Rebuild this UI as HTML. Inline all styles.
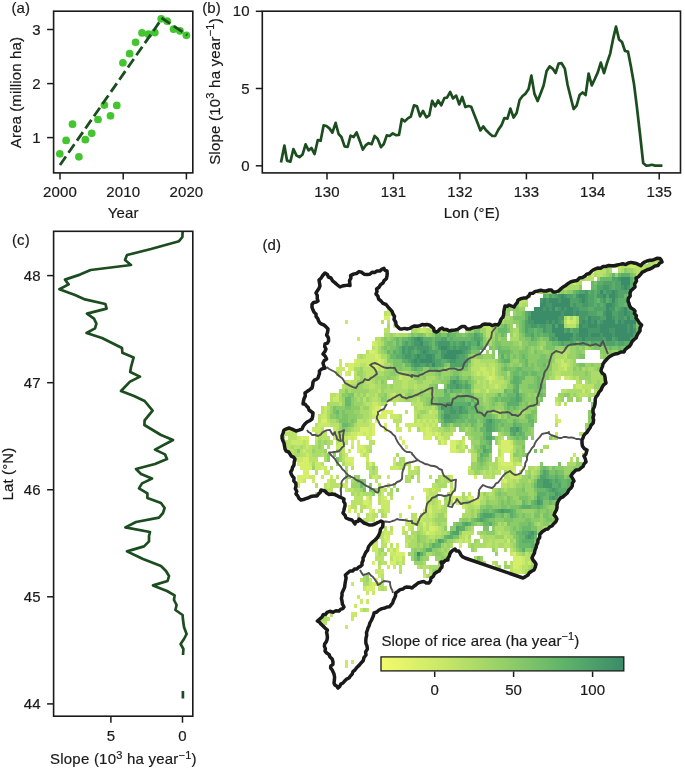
<!DOCTYPE html>
<html><head><meta charset="utf-8"><title>Rice area slope</title>
<style>
html,body{margin:0;padding:0;background:#fff;}
body{width:685px;height:770px;overflow:hidden;}
svg{display:block;}text{filter:grayscale(1);}
text{font-family:"Liberation Sans",sans-serif;font-size:15px;fill:#1a1a1a;font-kerning:normal;letter-spacing:0.12px;stroke:#1a1a1a;stroke-width:0.2px;}
.ax{fill:none;stroke:#1a1a1a;stroke-width:1.6;}
.tk{stroke:#1a1a1a;stroke-width:1.5;}
.ln{fill:none;stroke:#1b4d1f;stroke-width:2.7;stroke-linejoin:round;stroke-linecap:butt;}
.m{text-anchor:middle;}.e{text-anchor:end;}
.sup{font-size:11px;}.ls{letter-spacing:0.22px;}
</style></head><body>
<svg width="685" height="770" viewBox="0 0 685 770">
<rect width="685" height="770" fill="#fff"/>
<g id="panel-a">
<text x="11.5" y="13.2">(a)</text>
<circle cx="59.8" cy="153.8" r="3.85" fill="#43c52f"/>
<circle cx="66.1" cy="140.4" r="3.85" fill="#43c52f"/>
<circle cx="72.5" cy="124.2" r="3.85" fill="#43c52f"/>
<circle cx="78.9" cy="156.8" r="3.85" fill="#43c52f"/>
<circle cx="85.3" cy="139.7" r="3.85" fill="#43c52f"/>
<circle cx="91.7" cy="133.3" r="3.85" fill="#43c52f"/>
<circle cx="98.0" cy="119.5" r="3.85" fill="#43c52f"/>
<circle cx="104.4" cy="105.1" r="3.85" fill="#43c52f"/>
<circle cx="110.5" cy="115.8" r="3.85" fill="#43c52f"/>
<circle cx="116.8" cy="105.4" r="3.85" fill="#43c52f"/>
<circle cx="122.9" cy="62.8" r="3.85" fill="#43c52f"/>
<circle cx="129.6" cy="53.7" r="3.85" fill="#43c52f"/>
<circle cx="135.6" cy="42.3" r="3.85" fill="#43c52f"/>
<circle cx="142.0" cy="32.9" r="3.85" fill="#43c52f"/>
<circle cx="148.4" cy="34.2" r="3.85" fill="#43c52f"/>
<circle cx="154.8" cy="32.6" r="3.85" fill="#43c52f"/>
<circle cx="161.2" cy="18.8" r="3.85" fill="#43c52f"/>
<circle cx="167.2" cy="21.2" r="3.85" fill="#43c52f"/>
<circle cx="173.6" cy="29.2" r="3.85" fill="#43c52f"/>
<circle cx="180.0" cy="30.9" r="3.85" fill="#43c52f"/>
<circle cx="186.4" cy="35.3" r="3.85" fill="#43c52f"/>
<line x1="60.0" y1="165.0" x2="161.8" y2="18.75" stroke="#1b4d1f" stroke-width="2.8" stroke-dasharray="10.37 4.48"/>
<line x1="161.5" y1="17.9" x2="187.2" y2="35.1" stroke="#1b4d1f" stroke-width="2.8" stroke-dasharray="10.37 4.48"/>
<rect class="ax" x="53.6" y="11.2" width="139.2" height="161.7"/>
<line class="tk" x1="47.1" x2="53.6" y1="29.5" y2="29.5"/>
<text class="e" x="40.8" y="34.6">3</text>
<line class="tk" x1="47.1" x2="53.6" y1="83.6" y2="83.6"/>
<text class="e" x="40.8" y="88.7">2</text>
<line class="tk" x1="47.1" x2="53.6" y1="137.6" y2="137.6"/>
<text class="e" x="40.8" y="142.7">1</text>
<line class="tk" x1="60.0" x2="60.0" y1="172.9" y2="179.4"/>
<text class="m" x="60.0" y="197.2">2000</text>
<line class="tk" x1="123.2" x2="123.2" y1="172.9" y2="179.4"/>
<text class="m" x="123.2" y="197.2">2010</text>
<line class="tk" x1="186.4" x2="186.4" y1="172.9" y2="179.4"/>
<text class="m" x="186.4" y="197.2">2020</text>
<text class="m" x="123.2" y="218.2">Year</text>
<text class="m" transform="translate(20.8,92.6) rotate(-90)">Area (million ha)</text>
</g>
<g id="panel-b">
<text x="202.2" y="13.2">(b)</text>
<polyline class="ln" points="281.0,162.4 284.4,145.6 287.0,160.6 290.4,161.6 293.4,149.0 296.4,155.4 299.4,157.2 302.6,154.4 305.6,144.4 308.6,150.4 311.4,148.0 314.6,154.0 317.8,140.0 320.6,140.8 323.6,125.4 326.4,126.0 329.4,128.4 332.4,132.6 335.6,122.8 338.6,134.0 341.4,137.0 344.6,146.4 347.6,147.0 350.6,135.6 353.6,137.0 356.6,132.4 360.0,141.4 362.8,149.6 365.6,145.4 368.6,143.2 371.6,144.2 374.6,136.0 377.6,138.8 381.0,147.2 383.8,144.0 386.8,135.4 389.6,136.0 392.8,133.4 395.8,135.2 399.0,135.0 401.8,119.0 404.8,121.4 407.8,118.4 410.8,116.6 414.0,105.4 417.0,106.4 420.0,116.4 423.0,111.0 426.4,117.4 429.2,115.4 432.2,100.8 435.2,106.4 438.2,100.4 441.2,105.4 444.4,98.0 447.0,97.6 450.2,92.0 453.0,98.4 456.2,95.6 459.2,104.4 462.2,97.0 465.4,107.0 468.4,106.0 471.2,106.8 474.2,114.4 477.2,122.0 480.4,130.4 483.2,126.4 486.4,130.6 489.4,133.4 492.4,136.0 495.2,136.0 498.4,129.6 501.4,125.4 504.4,118.0 507.4,118.6 510.4,108.6 513.6,117.6 516.6,113.0 519.6,100.0 522.6,96.0 525.6,93.6 528.6,89.0 531.4,75.6 534.4,93.6 537.6,101.0 540.6,93.4 543.6,85.6 546.6,71.0 549.6,66.4 552.6,68.6 555.6,73.0 558.6,63.6 561.6,63.2 564.8,68.6 567.6,85.0 570.6,97.0 573.6,109.0 576.6,105.6 579.6,95.0 582.6,92.4 585.6,95.0 588.6,73.6 591.8,85.4 594.8,79.0 597.8,72.4 600.8,62.6 604.0,73.2 607.0,63.0 610.2,53.6 613.0,39.4 616.0,26.6 619.0,39.4 622.0,42.0 625.0,51.0 628.0,51.6 631.0,67.0 634.0,84.0 637.0,108.0 640.0,134.0 643.2,163.0 646.0,165.6 649.0,165.4 652.0,164.8 655.0,165.6 658.0,165.6 662.4,165.6"/>
<rect class="ax" x="262.3" y="11.2" width="418.2" height="161.7"/>
<line class="tk" x1="255.8" x2="262.3" y1="11.3" y2="11.3"/>
<text class="e" x="249.8" y="16.4">10</text>
<line class="tk" x1="255.8" x2="262.3" y1="88.5" y2="88.5"/>
<text class="e" x="249.8" y="93.6">5</text>
<line class="tk" x1="255.8" x2="262.3" y1="165.8" y2="165.8"/>
<text class="e" x="249.8" y="170.9">0</text>
<line class="tk" x1="327.0" x2="327.0" y1="172.9" y2="179.4"/>
<text class="m" x="327.0" y="197.2">130</text>
<line class="tk" x1="393.4" x2="393.4" y1="172.9" y2="179.4"/>
<text class="m" x="393.4" y="197.2">131</text>
<line class="tk" x1="459.9" x2="459.9" y1="172.9" y2="179.4"/>
<text class="m" x="459.9" y="197.2">132</text>
<line class="tk" x1="526.4" x2="526.4" y1="172.9" y2="179.4"/>
<text class="m" x="526.4" y="197.2">133</text>
<line class="tk" x1="592.8" x2="592.8" y1="172.9" y2="179.4"/>
<text class="m" x="592.8" y="197.2">134</text>
<line class="tk" x1="659.2" x2="659.2" y1="172.9" y2="179.4"/>
<text class="m" x="659.2" y="197.2">135</text>
<text class="m" x="471.8" y="218.2">Lon (°E)</text>
<text class="m ls" transform="translate(219.5,91.5) rotate(-90)">Slope (10<tspan class="sup" dy="-5.5">3</tspan><tspan dy="5.5"> ha year</tspan><tspan class="sup" dy="-5.5">−1</tspan><tspan dy="5.5">)</tspan></text>
</g>
<g id="panel-c">
<text x="12" y="245">(c)</text>
<clipPath id="clipc"><rect x="53.6" y="231.3" width="139.2" height="484.9"/></clipPath>
<g clip-path="url(#clipc)"><polyline class="ln" points="182.6,231.6 182.4,237.0 179.0,241.2 151.0,249.0 127.0,255.0 125.0,260.0 131.0,265.0 90.6,270.0 80.0,274.6 65.0,279.6 68.6,284.4 59.4,289.2 75.0,295.0 85.0,299.4 105.4,304.0 106.6,308.6 87.0,313.6 94.0,318.6 96.4,323.6 95.0,328.4 86.6,333.0 102.0,338.0 122.0,348.0 122.4,352.8 133.6,357.6 131.0,367.2 130.2,372.0 140.0,376.6 130.0,381.6 121.0,391.0 134.0,396.0 144.6,401.0 152.6,410.6 144.6,420.4 144.4,425.0 161.0,435.0 173.0,440.0 155.0,449.6 165.0,454.4 167.0,459.0 155.0,464.0 136.0,469.0 141.0,474.0 152.0,478.6 142.0,483.4 139.0,488.4 147.4,493.4 147.4,498.0 161.0,503.0 164.6,508.0 163.0,513.0 159.0,517.6 136.0,522.0 125.4,527.4 150.0,532.0 149.0,536.0 149.0,541.4 144.0,546.4 127.0,551.4 143.0,559.0 161.0,566.0 166.0,571.0 169.0,576.0 167.6,581.0 153.0,585.4 167.0,591.0 174.6,595.4 174.0,600.0 176.6,605.0 175.4,610.0 182.6,615.0 183.0,620.0 184.0,627.0 186.6,634.0 184.0,639.0 180.6,644.0 183.4,649.0 183.0,655.0"/>
<line class="ln" x1="182.9" x2="182.9" y1="691" y2="698.4"/></g>
<rect class="ax" x="53.6" y="231.3" width="139.2" height="484.9"/>
<line class="tk" x1="47.1" x2="53.6" y1="275.6" y2="275.6"/>
<text class="e" x="40.8" y="280.7">48</text>
<line class="tk" x1="47.1" x2="53.6" y1="382.7" y2="382.7"/>
<text class="e" x="40.8" y="387.8">47</text>
<line class="tk" x1="47.1" x2="53.6" y1="489.75" y2="489.75"/>
<text class="e" x="40.8" y="494.9">46</text>
<line class="tk" x1="47.1" x2="53.6" y1="596.8" y2="596.8"/>
<text class="e" x="40.8" y="601.9">45</text>
<line class="tk" x1="47.1" x2="53.6" y1="703.9" y2="703.9"/>
<text class="e" x="40.8" y="709.0">44</text>
<line class="tk" x1="110.9" x2="110.9" y1="716.2" y2="722.7"/>
<text class="m" x="110.9" y="741">5</text>
<line class="tk" x1="182.5" x2="182.5" y1="716.2" y2="722.7"/>
<text class="m" x="182.5" y="741">0</text>
<text class="m ls" x="123.4" y="764">Slope (10<tspan class="sup" dy="-5.5">3</tspan><tspan dy="5.5"> ha year</tspan><tspan class="sup" dy="-5.5">−1</tspan><tspan dy="5.5">)</tspan></text>
<text class="m" transform="translate(12.5,474) rotate(-90)">Lat (°N)</text>
</g>
<g id="panel-d">
<text x="262.5" y="249.8">(d)</text>
<clipPath id="clipm"><polygon points="303.0,404.0 305.0,393.0 312.0,388.0 313.0,382.0 318.0,378.0 319.4,371.0 325.0,368.0 323.0,363.0 326.6,359.0 323.0,354.0 326.0,349.0 325.0,344.0 328.6,341.0 326.6,335.0 328.0,329.0 324.0,325.0 318.6,321.0 316.0,314.0 313.0,310.0 312.0,304.4 318.0,301.0 316.0,293.0 320.0,286.0 319.0,280.0 325.0,273.0 331.0,278.0 340.0,287.0 345.0,285.6 350.0,285.6 350.6,275.6 359.0,271.6 367.0,274.4 375.0,272.4 384.0,268.4 387.0,271.0 387.0,276.0 383.0,283.0 376.6,289.0 376.0,294.0 381.0,301.0 388.0,307.0 393.0,314.0 396.0,325.0 400.0,329.0 407.0,329.0 412.0,327.0 420.0,325.6 427.0,324.4 432.0,327.0 436.0,332.0 442.0,328.0 449.0,331.0 455.0,330.0 462.0,326.4 470.0,329.0 478.0,327.0 485.0,324.0 492.0,325.6 498.0,325.0 503.0,317.0 505.0,306.0 509.0,305.0 514.0,307.0 518.0,300.0 526.0,298.0 530.0,293.6 538.0,291.0 549.0,290.0 556.0,292.0 563.0,287.0 574.0,281.0 585.0,276.0 593.0,270.0 606.0,266.4 620.0,264.4 634.0,263.0 641.0,265.6 647.0,261.0 654.0,259.6 660.0,258.4 662.0,262.0 658.0,265.6 650.0,269.0 642.0,272.4 636.0,278.0 635.0,287.0 630.0,293.0 628.0,301.0 631.0,308.0 635.0,311.0 636.0,318.0 641.6,325.0 640.0,331.0 636.0,338.0 631.0,344.0 624.0,352.0 615.0,354.0 607.0,359.0 603.0,364.0 601.0,371.0 605.0,377.0 606.0,383.0 601.0,390.0 596.0,397.0 595.0,404.0 593.0,412.0 593.6,420.0 590.0,428.0 585.0,434.0 582.0,440.0 582.4,446.0 587.0,450.0 584.0,456.0 586.0,462.0 581.0,468.0 574.0,472.0 571.0,476.0 574.0,481.0 571.0,488.0 565.0,495.0 559.0,500.0 557.0,508.0 554.0,515.0 557.0,519.0 552.0,526.0 548.0,529.0 542.0,532.0 538.0,540.0 535.0,550.0 532.0,558.0 536.0,564.0 534.0,570.0 528.0,575.0 523.0,578.0 465.0,558.0 460.0,553.0 455.0,549.0 451.0,552.0 448.0,558.0 448.0,560.0 441.0,562.0 442.0,567.0 437.0,572.0 431.0,578.0 429.0,583.0 424.0,581.6 418.0,583.0 412.0,588.0 407.0,587.0 403.0,589.0 395.6,593.0 394.6,598.0 391.0,605.0 385.0,608.0 379.0,610.0 374.0,613.0 371.0,621.0 367.4,630.0 366.0,638.0 367.0,646.0 366.0,655.0 361.0,663.0 355.0,670.0 349.0,678.0 343.0,683.0 338.0,688.0 334.0,683.0 334.0,674.0 330.6,668.0 333.0,662.0 330.0,657.0 325.0,651.0 324.6,644.0 327.4,637.0 327.4,630.0 323.0,626.0 317.4,621.0 322.0,617.0 327.0,612.4 339.0,611.0 344.0,607.0 342.0,601.0 342.0,593.0 345.0,584.0 345.4,575.0 350.0,571.0 357.0,569.0 362.0,565.0 363.0,558.0 366.0,552.0 369.0,546.0 375.0,540.0 380.0,532.0 383.0,524.0 381.0,521.0 375.0,524.0 369.0,525.0 364.0,523.0 359.0,519.0 355.0,524.0 352.0,520.0 346.0,518.0 343.0,513.0 345.0,506.0 344.0,499.0 337.0,495.6 329.0,494.4 325.0,491.0 321.0,490.0 317.0,496.0 308.0,498.0 301.0,500.0 296.0,494.0 296.0,486.0 294.0,478.0 290.6,472.0 294.0,465.0 295.0,459.0 290.0,454.0 285.0,449.0 284.0,443.0 282.0,436.0 284.0,430.0 289.0,428.0 296.0,431.0 302.0,429.0 307.0,422.0 312.0,419.0 313.0,413.0 309.0,410.0 305.0,404.0"/></clipPath>
<g clip-path="url(#clipm)" shape-rendering="crispEdges">
<path fill="#d6ef6a" d="M390 311.2h3v4.3h-3zM384 315.5h6v4.3h-6zM393 315.5h3v4.3h-3zM567 319.8h3v4.3h-3zM393 324.1h3v4.3h-3zM372 341.3h3v4.3h-3zM369 349.9h6v4.3h-6zM375 354.2h3v4.3h-3zM354 358.5h3v4.3h-3zM378 358.5h3v4.3h-3zM348 362.8h6v4.3h-6zM369 362.8h12v4.3h-12zM348 367.1h6v4.3h-6zM345 371.4h3v4.3h-3zM489 375.7h3v4.3h-3zM555 401.5h3v4.3h-3zM375 405.8h6v4.3h-6zM372 410.1h6v4.3h-6zM381 410.1h12v4.3h-12zM375 414.4h12v4.3h-12zM555 414.4h3v4.3h-3zM321 418.7h6v4.3h-6zM375 418.7h3v4.3h-3zM558 418.7h3v4.3h-3zM372 423h3v4.3h-3zM384 423h3v4.3h-3zM285 427.3h3v4.3h-3zM360 427.3h9v4.3h-9zM372 427.3h3v4.3h-3zM384 427.3h3v4.3h-3zM426 427.3h3v4.3h-3zM357 431.6h6v4.3h-6zM366 431.6h3v4.3h-3zM372 431.6h3v4.3h-3zM426 431.6h6v4.3h-6zM435 431.6h3v4.3h-3zM300 435.9h9v4.3h-9zM348 435.9h3v4.3h-3zM354 435.9h3v4.3h-3zM369 435.9h3v4.3h-3zM399 435.9h3v4.3h-3zM423 435.9h9v4.3h-9zM438 435.9h3v4.3h-3zM351 440.2h3v4.3h-3zM357 440.2h3v4.3h-3zM402 440.2h3v4.3h-3zM441 440.2h3v4.3h-3zM450 440.2h6v4.3h-6zM501 440.2h9v4.3h-9zM357 444.5h6v4.3h-6zM405 444.5h3v4.3h-3zM450 444.5h6v4.3h-6zM501 444.5h12v4.3h-12zM357 448.8h3v4.3h-3zM363 448.8h3v4.3h-3zM450 448.8h6v4.3h-6zM501 448.8h9v4.3h-9zM360 453.1h3v4.3h-3zM501 453.1h3v4.3h-3zM303 457.4h6v4.3h-6zM345 457.4h9v4.3h-9zM498 457.4h6v4.3h-6zM297 461.7h12v4.3h-12zM351 461.7h3v4.3h-3zM369 461.7h3v4.3h-3zM501 461.7h12v4.3h-12zM300 466h12v4.3h-12zM321 466h3v4.3h-3zM303 470.3h6v4.3h-6zM513 470.3h3v4.3h-3zM297 474.6h12v4.3h-12zM474 474.6h3v4.3h-3zM297 478.9h6v4.3h-6zM504 478.9h3v4.3h-3zM339 487.5h3v4.3h-3zM423 487.5h3v4.3h-3zM453 487.5h3v4.3h-3zM450 491.8h3v4.3h-3zM366 496.1h3v4.3h-3zM384 496.1h3v4.3h-3zM411 496.1h3v4.3h-3zM453 496.1h3v4.3h-3zM468 496.1h6v4.3h-6zM363 500.4h6v4.3h-6zM348 504.7h3v4.3h-3zM369 504.7h3v4.3h-3zM408 504.7h3v4.3h-3zM348 509h3v4.3h-3zM369 509h3v4.3h-3zM429 509h3v4.3h-3zM423 521.9h3v4.3h-3zM429 526.2h6v4.3h-6zM426 530.5h3v4.3h-3zM384 534.8h3v4.3h-3zM387 539.1h3v4.3h-3zM459 543.4h3v4.3h-3zM390 547.7h3v4.3h-3zM396 547.7h3v4.3h-3zM396 552h9v4.3h-9zM513 552h3v4.3h-3zM393 556.3h3v4.3h-3zM399 556.3h3v4.3h-3zM513 556.3h9v4.3h-9zM372 560.6h3v4.3h-3zM390 560.6h6v4.3h-6zM513 560.6h9v4.3h-9zM513 564.9h6v4.3h-6zM375 577.8h3v4.3h-3zM372 582.1h3v4.3h-3zM366 586.4h9v4.3h-9z"/>
<path fill="#c9e968" d="M618 263.9h3v4.3h-3zM630 263.9h6v4.3h-6zM591 272.5h3v4.3h-3zM573 281.1h3v4.3h-3zM537 289.7h3v4.3h-3zM387 306.9h3v4.3h-3zM387 311.2h3v4.3h-3zM567 315.5h3v4.3h-3zM573 315.5h3v4.3h-3zM345 319.8h3v4.3h-3zM393 319.8h3v4.3h-3zM570 319.8h6v4.3h-6zM423 324.1h3v4.3h-3zM489 324.1h3v4.3h-3zM420 328.4h6v4.3h-6zM357 337h3v4.3h-3zM375 341.3h3v4.3h-3zM375 345.6h3v4.3h-3zM375 349.9h3v4.3h-3zM366 354.2h9v4.3h-9zM378 354.2h3v4.3h-3zM339 358.5h3v4.3h-3zM357 358.5h21v4.3h-21zM381 358.5h3v4.3h-3zM561 358.5h3v4.3h-3zM339 362.8h3v4.3h-3zM345 362.8h3v4.3h-3zM354 362.8h6v4.3h-6zM366 362.8h3v4.3h-3zM381 362.8h3v4.3h-3zM561 362.8h6v4.3h-6zM336 367.1h9v4.3h-9zM375 367.1h3v4.3h-3zM381 367.1h3v4.3h-3zM480 367.1h6v4.3h-6zM492 367.1h3v4.3h-3zM564 367.1h3v4.3h-3zM339 371.4h3v4.3h-3zM348 371.4h3v4.3h-3zM477 371.4h3v4.3h-3zM483 371.4h6v4.3h-6zM492 371.4h3v4.3h-3zM399 375.7h3v4.3h-3zM486 375.7h3v4.3h-3zM492 375.7h3v4.3h-3zM555 375.7h6v4.3h-6zM564 375.7h6v4.3h-6zM348 380h3v4.3h-3zM489 380h3v4.3h-3zM495 384.3h3v4.3h-3zM576 384.3h6v4.3h-6zM486 388.6h3v4.3h-3zM582 388.6h3v4.3h-3zM336 392.9h3v4.3h-3zM393 392.9h3v4.3h-3zM333 397.2h6v4.3h-6zM372 401.5h6v4.3h-6zM393 401.5h3v4.3h-3zM324 405.8h3v4.3h-3zM372 405.8h3v4.3h-3zM324 410.1h3v4.3h-3zM429 410.1h3v4.3h-3zM321 414.4h6v4.3h-6zM372 414.4h3v4.3h-3zM390 414.4h9v4.3h-9zM369 418.7h3v4.3h-3zM417 418.7h3v4.3h-3zM423 418.7h3v4.3h-3zM429 418.7h3v4.3h-3zM435 418.7h3v4.3h-3zM555 418.7h3v4.3h-3zM318 423h12v4.3h-12zM369 423h3v4.3h-3zM405 423h18v4.3h-18zM426 423h3v4.3h-3zM432 423h3v4.3h-3zM288 427.3h6v4.3h-6zM312 427.3h9v4.3h-9zM333 427.3h3v4.3h-3zM369 427.3h3v4.3h-3zM396 427.3h6v4.3h-6zM408 427.3h3v4.3h-3zM420 427.3h6v4.3h-6zM429 427.3h3v4.3h-3zM282 431.6h3v4.3h-3zM318 431.6h3v4.3h-3zM351 431.6h6v4.3h-6zM363 431.6h3v4.3h-3zM369 431.6h3v4.3h-3zM423 431.6h3v4.3h-3zM432 431.6h3v4.3h-3zM438 431.6h3v4.3h-3zM555 431.6h3v4.3h-3zM297 435.9h3v4.3h-3zM315 435.9h3v4.3h-3zM333 435.9h3v4.3h-3zM339 435.9h3v4.3h-3zM345 435.9h3v4.3h-3zM351 435.9h3v4.3h-3zM366 435.9h3v4.3h-3zM441 435.9h3v4.3h-3zM291 440.2h12v4.3h-12zM306 440.2h3v4.3h-3zM339 440.2h3v4.3h-3zM444 440.2h3v4.3h-3zM456 440.2h3v4.3h-3zM462 440.2h3v4.3h-3zM510 440.2h3v4.3h-3zM306 444.5h3v4.3h-3zM336 444.5h6v4.3h-6zM351 444.5h3v4.3h-3zM363 444.5h3v4.3h-3zM462 444.5h3v4.3h-3zM498 444.5h3v4.3h-3zM303 448.8h3v4.3h-3zM348 448.8h3v4.3h-3zM360 448.8h3v4.3h-3zM456 448.8h3v4.3h-3zM510 448.8h3v4.3h-3zM306 453.1h3v4.3h-3zM345 453.1h3v4.3h-3zM366 453.1h3v4.3h-3zM510 453.1h3v4.3h-3zM573 453.1h3v4.3h-3zM294 457.4h9v4.3h-9zM366 457.4h3v4.3h-3zM393 457.4h3v4.3h-3zM510 457.4h3v4.3h-3zM309 461.7h3v4.3h-3zM315 461.7h6v4.3h-6zM345 461.7h6v4.3h-6zM393 461.7h3v4.3h-3zM498 461.7h3v4.3h-3zM516 461.7h6v4.3h-6zM315 466h6v4.3h-6zM324 466h3v4.3h-3zM390 466h9v4.3h-9zM414 466h3v4.3h-3zM468 466h3v4.3h-3zM498 466h18v4.3h-18zM522 466h3v4.3h-3zM324 470.3h6v4.3h-6zM507 470.3h6v4.3h-6zM519 470.3h3v4.3h-3zM309 474.6h6v4.3h-6zM321 474.6h3v4.3h-3zM330 474.6h3v4.3h-3zM372 474.6h6v4.3h-6zM387 474.6h3v4.3h-3zM450 474.6h3v4.3h-3zM510 474.6h9v4.3h-9zM303 478.9h3v4.3h-3zM312 478.9h3v4.3h-3zM327 478.9h3v4.3h-3zM501 478.9h3v4.3h-3zM297 483.2h3v4.3h-3zM327 483.2h3v4.3h-3zM339 483.2h9v4.3h-9zM387 483.2h3v4.3h-3zM345 487.5h3v4.3h-3zM381 487.5h3v4.3h-3zM426 487.5h3v4.3h-3zM432 487.5h3v4.3h-3zM450 487.5h3v4.3h-3zM327 491.8h3v4.3h-3zM381 491.8h3v4.3h-3zM426 491.8h3v4.3h-3zM477 491.8h3v4.3h-3zM381 496.1h3v4.3h-3zM429 496.1h3v4.3h-3zM450 496.1h3v4.3h-3zM456 496.1h6v4.3h-6zM477 496.1h3v4.3h-3zM369 500.4h3v4.3h-3zM381 500.4h9v4.3h-9zM438 500.4h3v4.3h-3zM456 500.4h6v4.3h-6zM474 500.4h6v4.3h-6zM366 504.7h3v4.3h-3zM381 504.7h9v4.3h-9zM426 504.7h6v4.3h-6zM438 504.7h3v4.3h-3zM462 504.7h3v4.3h-3zM354 509h3v4.3h-3zM372 509h3v4.3h-3zM384 509h6v4.3h-6zM423 509h6v4.3h-6zM369 513.3h3v4.3h-3zM399 513.3h3v4.3h-3zM423 513.3h3v4.3h-3zM429 513.3h3v4.3h-3zM369 517.6h3v4.3h-3zM405 517.6h3v4.3h-3zM417 517.6h6v4.3h-6zM405 521.9h12v4.3h-12zM429 521.9h3v4.3h-3zM402 526.2h3v4.3h-3zM408 526.2h3v4.3h-3zM423 526.2h3v4.3h-3zM435 526.2h3v4.3h-3zM384 530.5h9v4.3h-9zM429 530.5h6v4.3h-6zM387 534.8h3v4.3h-3zM465 534.8h3v4.3h-3zM384 539.1h3v4.3h-3zM459 539.1h3v4.3h-3zM465 539.1h3v4.3h-3zM507 539.1h3v4.3h-3zM372 543.4h6v4.3h-6zM396 543.4h3v4.3h-3zM405 543.4h3v4.3h-3zM372 547.7h6v4.3h-6zM375 552h3v4.3h-3zM390 552h6v4.3h-6zM510 552h3v4.3h-3zM396 556.3h3v4.3h-3zM522 556.3h3v4.3h-3zM399 560.6h3v4.3h-3zM522 560.6h3v4.3h-3zM528 560.6h3v4.3h-3zM387 564.9h3v4.3h-3zM393 564.9h3v4.3h-3zM519 564.9h3v4.3h-3zM375 569.2h9v4.3h-9zM513 569.2h9v4.3h-9zM378 573.5h3v4.3h-3zM423 573.5h3v4.3h-3zM369 577.8h3v4.3h-3zM351 582.1h3v4.3h-3zM369 582.1h3v4.3h-3zM375 582.1h3v4.3h-3zM363 586.4h3v4.3h-3zM366 590.7h3v4.3h-3zM372 590.7h3v4.3h-3zM357 595h3v4.3h-3zM360 599.3h3v4.3h-3zM366 599.3h3v4.3h-3zM354 603.6h3v4.3h-3zM360 607.9h3v4.3h-3zM351 612.2h6v4.3h-6zM351 616.5h3v4.3h-3zM345 625.1h3v4.3h-3zM345 659.5h3v4.3h-3zM351 659.5h3v4.3h-3zM345 663.8h3v4.3h-3z"/>
<path fill="#bae268" d="M654 259.6h9v4.3h-9zM615 263.9h3v4.3h-3zM624 263.9h6v4.3h-6zM636 263.9h3v4.3h-3zM642 263.9h3v4.3h-3zM651 263.9h6v4.3h-6zM594 268.2h12v4.3h-12zM618 268.2h3v4.3h-3zM636 268.2h12v4.3h-12zM597 272.5h6v4.3h-6zM636 272.5h3v4.3h-3zM579 276.8h3v4.3h-3zM585 276.8h9v4.3h-9zM570 281.1h3v4.3h-3zM576 281.1h3v4.3h-3zM564 285.4h3v4.3h-3zM528 294h3v4.3h-3zM519 298.3h9v4.3h-9zM519 302.6h3v4.3h-3zM384 311.2h3v4.3h-3zM381 319.8h3v4.3h-3zM387 319.8h3v4.3h-3zM564 319.8h3v4.3h-3zM483 324.1h6v4.3h-6zM567 324.1h9v4.3h-9zM384 328.4h6v4.3h-6zM417 328.4h3v4.3h-3zM426 328.4h6v4.3h-6zM465 328.4h3v4.3h-3zM486 328.4h6v4.3h-6zM396 332.7h3v4.3h-3zM486 332.7h6v4.3h-6zM513 332.7h3v4.3h-3zM375 337h6v4.3h-6zM378 341.3h3v4.3h-3zM372 345.6h3v4.3h-3zM366 349.9h3v4.3h-3zM558 349.9h9v4.3h-9zM357 354.2h3v4.3h-3zM363 354.2h3v4.3h-3zM564 354.2h3v4.3h-3zM384 358.5h3v4.3h-3zM474 358.5h6v4.3h-6zM555 358.5h6v4.3h-6zM567 358.5h3v4.3h-3zM360 362.8h6v4.3h-6zM474 362.8h12v4.3h-12zM489 362.8h6v4.3h-6zM558 362.8h3v4.3h-3zM567 362.8h3v4.3h-3zM363 367.1h12v4.3h-12zM378 367.1h3v4.3h-3zM471 367.1h9v4.3h-9zM486 367.1h6v4.3h-6zM558 367.1h6v4.3h-6zM336 371.4h3v4.3h-3zM354 371.4h3v4.3h-3zM366 371.4h9v4.3h-9zM399 371.4h3v4.3h-3zM474 371.4h3v4.3h-3zM480 371.4h3v4.3h-3zM489 371.4h3v4.3h-3zM555 371.4h6v4.3h-6zM354 375.7h6v4.3h-6zM366 375.7h3v4.3h-3zM402 375.7h9v4.3h-9zM483 375.7h3v4.3h-3zM495 375.7h3v4.3h-3zM570 375.7h3v4.3h-3zM576 375.7h3v4.3h-3zM345 380h3v4.3h-3zM351 380h6v4.3h-6zM366 380h6v4.3h-6zM402 380h6v4.3h-6zM477 380h3v4.3h-3zM483 380h3v4.3h-3zM492 380h12v4.3h-12zM576 380h3v4.3h-3zM342 384.3h3v4.3h-3zM369 384.3h6v4.3h-6zM402 384.3h6v4.3h-6zM414 384.3h3v4.3h-3zM483 384.3h3v4.3h-3zM489 384.3h6v4.3h-6zM498 384.3h3v4.3h-3zM573 384.3h3v4.3h-3zM582 384.3h12v4.3h-12zM378 388.6h3v4.3h-3zM474 388.6h6v4.3h-6zM561 388.6h6v4.3h-6zM588 388.6h3v4.3h-3zM594 388.6h3v4.3h-3zM330 392.9h6v4.3h-6zM366 392.9h3v4.3h-3zM375 392.9h3v4.3h-3zM390 392.9h3v4.3h-3zM402 392.9h3v4.3h-3zM579 392.9h9v4.3h-9zM330 397.2h3v4.3h-3zM363 397.2h3v4.3h-3zM372 397.2h6v4.3h-6zM390 397.2h9v4.3h-9zM417 397.2h3v4.3h-3zM555 397.2h3v4.3h-3zM339 401.5h3v4.3h-3zM366 401.5h6v4.3h-6zM378 401.5h3v4.3h-3zM411 401.5h12v4.3h-12zM558 401.5h3v4.3h-3zM564 401.5h3v4.3h-3zM321 405.8h3v4.3h-3zM327 405.8h3v4.3h-3zM369 405.8h3v4.3h-3zM417 405.8h6v4.3h-6zM432 405.8h3v4.3h-3zM321 410.1h3v4.3h-3zM369 410.1h3v4.3h-3zM405 410.1h3v4.3h-3zM414 410.1h3v4.3h-3zM432 410.1h6v4.3h-6zM495 410.1h6v4.3h-6zM318 414.4h3v4.3h-3zM369 414.4h3v4.3h-3zM399 414.4h3v4.3h-3zM414 414.4h3v4.3h-3zM423 414.4h12v4.3h-12zM318 418.7h3v4.3h-3zM327 418.7h3v4.3h-3zM357 418.7h6v4.3h-6zM366 418.7h3v4.3h-3zM393 418.7h9v4.3h-9zM414 418.7h3v4.3h-3zM420 418.7h3v4.3h-3zM426 418.7h3v4.3h-3zM432 418.7h3v4.3h-3zM315 423h3v4.3h-3zM330 423h9v4.3h-9zM357 423h12v4.3h-12zM396 423h3v4.3h-3zM423 423h3v4.3h-3zM429 423h3v4.3h-3zM435 423h3v4.3h-3zM555 423h3v4.3h-3zM321 427.3h3v4.3h-3zM336 427.3h3v4.3h-3zM354 427.3h6v4.3h-6zM432 427.3h6v4.3h-6zM285 431.6h12v4.3h-12zM315 431.6h3v4.3h-3zM321 431.6h6v4.3h-6zM333 431.6h6v4.3h-6zM348 431.6h3v4.3h-3zM444 431.6h9v4.3h-9zM579 431.6h6v4.3h-6zM288 435.9h9v4.3h-9zM321 435.9h9v4.3h-9zM336 435.9h3v4.3h-3zM342 435.9h3v4.3h-3zM435 435.9h3v4.3h-3zM444 435.9h6v4.3h-6zM462 435.9h3v4.3h-3zM501 435.9h3v4.3h-3zM285 440.2h6v4.3h-6zM303 440.2h3v4.3h-3zM315 440.2h3v4.3h-3zM330 440.2h3v4.3h-3zM336 440.2h3v4.3h-3zM342 440.2h6v4.3h-6zM369 440.2h6v4.3h-6zM438 440.2h3v4.3h-3zM459 440.2h3v4.3h-3zM498 440.2h3v4.3h-3zM285 444.5h6v4.3h-6zM294 444.5h6v4.3h-6zM303 444.5h3v4.3h-3zM309 444.5h3v4.3h-3zM342 444.5h3v4.3h-3zM366 444.5h6v4.3h-6zM459 444.5h3v4.3h-3zM285 448.8h9v4.3h-9zM300 448.8h3v4.3h-3zM306 448.8h6v4.3h-6zM342 448.8h3v4.3h-3zM366 448.8h3v4.3h-3zM459 448.8h6v4.3h-6zM468 448.8h3v4.3h-3zM498 448.8h3v4.3h-3zM291 453.1h3v4.3h-3zM300 453.1h6v4.3h-6zM309 453.1h3v4.3h-3zM321 453.1h3v4.3h-3zM342 453.1h3v4.3h-3zM363 453.1h3v4.3h-3zM471 453.1h6v4.3h-6zM498 453.1h3v4.3h-3zM309 457.4h9v4.3h-9zM342 457.4h3v4.3h-3zM471 457.4h6v4.3h-6zM570 457.4h3v4.3h-3zM321 461.7h3v4.3h-3zM366 461.7h3v4.3h-3zM372 461.7h3v4.3h-3zM402 461.7h9v4.3h-9zM513 461.7h3v4.3h-3zM351 466h3v4.3h-3zM366 466h6v4.3h-6zM375 466h3v4.3h-3zM399 466h3v4.3h-3zM408 466h3v4.3h-3zM417 466h3v4.3h-3zM489 466h3v4.3h-3zM534 466h3v4.3h-3zM315 470.3h3v4.3h-3zM369 470.3h3v4.3h-3zM375 470.3h3v4.3h-3zM408 470.3h9v4.3h-9zM468 470.3h6v4.3h-6zM483 470.3h3v4.3h-3zM489 470.3h3v4.3h-3zM495 470.3h6v4.3h-6zM531 470.3h3v4.3h-3zM336 474.6h3v4.3h-3zM378 474.6h3v4.3h-3zM408 474.6h3v4.3h-3zM417 474.6h3v4.3h-3zM429 474.6h3v4.3h-3zM441 474.6h3v4.3h-3zM447 474.6h3v4.3h-3zM483 474.6h9v4.3h-9zM504 474.6h6v4.3h-6zM519 474.6h3v4.3h-3zM330 478.9h6v4.3h-6zM345 478.9h3v4.3h-3zM375 478.9h3v4.3h-3zM417 478.9h3v4.3h-3zM441 478.9h3v4.3h-3zM450 478.9h3v4.3h-3zM507 478.9h6v4.3h-6zM516 478.9h3v4.3h-3zM315 483.2h3v4.3h-3zM324 483.2h3v4.3h-3zM330 483.2h9v4.3h-9zM378 483.2h3v4.3h-3zM432 483.2h6v4.3h-6zM450 483.2h3v4.3h-3zM501 483.2h6v4.3h-6zM510 483.2h3v4.3h-3zM324 487.5h9v4.3h-9zM348 487.5h6v4.3h-6zM384 487.5h3v4.3h-3zM429 487.5h3v4.3h-3zM435 487.5h6v4.3h-6zM315 491.8h3v4.3h-3zM330 491.8h6v4.3h-6zM354 491.8h3v4.3h-3zM360 491.8h3v4.3h-3zM387 491.8h3v4.3h-3zM429 491.8h9v4.3h-9zM468 491.8h3v4.3h-3zM480 491.8h3v4.3h-3zM489 491.8h3v4.3h-3zM354 496.1h9v4.3h-9zM369 496.1h3v4.3h-3zM378 496.1h3v4.3h-3zM390 496.1h3v4.3h-3zM426 496.1h3v4.3h-3zM447 496.1h3v4.3h-3zM465 496.1h3v4.3h-3zM480 496.1h3v4.3h-3zM351 500.4h12v4.3h-12zM378 500.4h3v4.3h-3zM426 500.4h6v4.3h-6zM435 500.4h3v4.3h-3zM450 500.4h3v4.3h-3zM462 500.4h3v4.3h-3zM471 500.4h3v4.3h-3zM351 504.7h6v4.3h-6zM360 504.7h6v4.3h-6zM432 504.7h6v4.3h-6zM441 504.7h3v4.3h-3zM465 504.7h3v4.3h-3zM474 504.7h6v4.3h-6zM378 509h6v4.3h-6zM432 509h9v4.3h-9zM465 509h3v4.3h-3zM357 513.3h3v4.3h-3zM366 513.3h3v4.3h-3zM372 513.3h6v4.3h-6zM384 513.3h3v4.3h-3zM411 513.3h6v4.3h-6zM420 513.3h3v4.3h-3zM426 513.3h3v4.3h-3zM432 513.3h3v4.3h-3zM444 513.3h3v4.3h-3zM363 517.6h6v4.3h-6zM372 517.6h3v4.3h-3zM411 517.6h6v4.3h-6zM423 517.6h9v4.3h-9zM420 521.9h3v4.3h-3zM426 521.9h3v4.3h-3zM432 521.9h3v4.3h-3zM384 526.2h3v4.3h-3zM390 526.2h3v4.3h-3zM411 526.2h3v4.3h-3zM417 526.2h3v4.3h-3zM426 526.2h3v4.3h-3zM438 526.2h3v4.3h-3zM381 530.5h3v4.3h-3zM402 530.5h6v4.3h-6zM423 530.5h3v4.3h-3zM435 530.5h6v4.3h-6zM462 530.5h12v4.3h-12zM498 530.5h3v4.3h-3zM381 534.8h3v4.3h-3zM405 534.8h3v4.3h-3zM411 534.8h3v4.3h-3zM429 534.8h6v4.3h-6zM462 534.8h3v4.3h-3zM480 534.8h3v4.3h-3zM504 534.8h3v4.3h-3zM375 539.1h3v4.3h-3zM381 539.1h3v4.3h-3zM405 539.1h6v4.3h-6zM456 539.1h3v4.3h-3zM462 539.1h3v4.3h-3zM468 539.1h3v4.3h-3zM489 539.1h3v4.3h-3zM495 539.1h9v4.3h-9zM381 543.4h6v4.3h-6zM390 543.4h3v4.3h-3zM486 543.4h6v4.3h-6zM495 543.4h3v4.3h-3zM504 543.4h6v4.3h-6zM387 547.7h3v4.3h-3zM393 547.7h3v4.3h-3zM495 547.7h3v4.3h-3zM510 547.7h3v4.3h-3zM381 552h3v4.3h-3zM516 552h3v4.3h-3zM525 552h3v4.3h-3zM375 556.3h9v4.3h-9zM390 556.3h3v4.3h-3zM402 556.3h3v4.3h-3zM525 556.3h9v4.3h-9zM381 560.6h6v4.3h-6zM396 560.6h3v4.3h-3zM402 560.6h3v4.3h-3zM492 560.6h3v4.3h-3zM510 560.6h3v4.3h-3zM525 560.6h3v4.3h-3zM378 564.9h3v4.3h-3zM399 564.9h3v4.3h-3zM417 564.9h3v4.3h-3zM423 564.9h6v4.3h-6zM495 564.9h3v4.3h-3zM510 564.9h3v4.3h-3zM522 564.9h6v4.3h-6zM534 564.9h3v4.3h-3zM399 569.2h3v4.3h-3zM423 569.2h3v4.3h-3zM429 569.2h3v4.3h-3zM510 569.2h3v4.3h-3zM522 569.2h3v4.3h-3zM381 573.5h3v4.3h-3zM429 573.5h3v4.3h-3zM360 577.8h3v4.3h-3zM378 582.1h6v4.3h-6zM378 586.4h3v4.3h-3zM384 586.4h3v4.3h-3zM366 607.9h3v4.3h-3zM330 612.2h3v4.3h-3zM327 616.5h3v4.3h-3zM321 620.8h6v4.3h-6z"/>
<path fill="#abdb68" d="M648 259.6h6v4.3h-6zM603 263.9h3v4.3h-3zM609 263.9h6v4.3h-6zM621 263.9h3v4.3h-3zM639 263.9h3v4.3h-3zM645 263.9h6v4.3h-6zM609 268.2h3v4.3h-3zM621 268.2h3v4.3h-3zM633 268.2h3v4.3h-3zM588 272.5h3v4.3h-3zM594 272.5h3v4.3h-3zM603 272.5h3v4.3h-3zM582 276.8h3v4.3h-3zM579 281.1h3v4.3h-3zM567 285.4h12v4.3h-12zM522 302.6h6v4.3h-6zM504 315.5h6v4.3h-6zM564 315.5h3v4.3h-3zM570 315.5h3v4.3h-3zM576 315.5h3v4.3h-3zM501 319.8h3v4.3h-3zM576 319.8h3v4.3h-3zM387 324.1h3v4.3h-3zM429 324.1h3v4.3h-3zM480 324.1h3v4.3h-3zM564 324.1h3v4.3h-3zM411 328.4h6v4.3h-6zM441 328.4h6v4.3h-6zM513 328.4h6v4.3h-6zM384 332.7h6v4.3h-6zM393 332.7h3v4.3h-3zM399 332.7h9v4.3h-9zM426 332.7h3v4.3h-3zM492 332.7h3v4.3h-3zM516 332.7h3v4.3h-3zM486 337h3v4.3h-3zM510 337h9v4.3h-9zM381 341.3h3v4.3h-3zM489 341.3h3v4.3h-3zM519 341.3h3v4.3h-3zM378 345.6h3v4.3h-3zM540 345.6h3v4.3h-3zM567 345.6h3v4.3h-3zM585 345.6h3v4.3h-3zM378 349.9h3v4.3h-3zM555 349.9h3v4.3h-3zM567 349.9h3v4.3h-3zM360 354.2h3v4.3h-3zM381 354.2h6v4.3h-6zM555 354.2h9v4.3h-9zM471 358.5h3v4.3h-3zM480 358.5h15v4.3h-15zM564 358.5h3v4.3h-3zM570 358.5h3v4.3h-3zM603 358.5h3v4.3h-3zM384 362.8h6v4.3h-6zM471 362.8h3v4.3h-3zM486 362.8h3v4.3h-3zM495 362.8h3v4.3h-3zM552 362.8h6v4.3h-6zM570 362.8h3v4.3h-3zM354 367.1h6v4.3h-6zM384 367.1h3v4.3h-3zM447 367.1h3v4.3h-3zM495 367.1h3v4.3h-3zM552 367.1h6v4.3h-6zM567 367.1h6v4.3h-6zM582 367.1h3v4.3h-3zM588 367.1h6v4.3h-6zM363 371.4h3v4.3h-3zM378 371.4h6v4.3h-6zM402 371.4h6v4.3h-6zM471 371.4h3v4.3h-3zM495 371.4h3v4.3h-3zM507 371.4h3v4.3h-3zM552 371.4h3v4.3h-3zM561 371.4h12v4.3h-12zM591 371.4h9v4.3h-9zM363 375.7h3v4.3h-3zM369 375.7h6v4.3h-6zM396 375.7h3v4.3h-3zM411 375.7h3v4.3h-3zM426 375.7h9v4.3h-9zM474 375.7h9v4.3h-9zM498 375.7h6v4.3h-6zM549 375.7h6v4.3h-6zM573 375.7h3v4.3h-3zM591 375.7h15v4.3h-15zM363 380h3v4.3h-3zM372 380h3v4.3h-3zM378 380h3v4.3h-3zM393 380h9v4.3h-9zM408 380h9v4.3h-9zM423 380h9v4.3h-9zM480 380h3v4.3h-3zM486 380h3v4.3h-3zM504 380h3v4.3h-3zM579 380h3v4.3h-3zM585 380h3v4.3h-3zM591 380h6v4.3h-6zM600 380h6v4.3h-6zM345 384.3h12v4.3h-12zM363 384.3h6v4.3h-6zM375 384.3h6v4.3h-6zM387 384.3h3v4.3h-3zM393 384.3h9v4.3h-9zM408 384.3h6v4.3h-6zM417 384.3h12v4.3h-12zM474 384.3h9v4.3h-9zM486 384.3h3v4.3h-3zM501 384.3h6v4.3h-6zM339 388.6h6v4.3h-6zM348 388.6h3v4.3h-3zM369 388.6h9v4.3h-9zM384 388.6h24v4.3h-24zM414 388.6h6v4.3h-6zM423 388.6h6v4.3h-6zM480 388.6h6v4.3h-6zM489 388.6h15v4.3h-15zM567 388.6h15v4.3h-15zM585 388.6h3v4.3h-3zM597 388.6h3v4.3h-3zM339 392.9h3v4.3h-3zM354 392.9h3v4.3h-3zM360 392.9h3v4.3h-3zM369 392.9h6v4.3h-6zM387 392.9h3v4.3h-3zM396 392.9h6v4.3h-6zM414 392.9h3v4.3h-3zM483 392.9h3v4.3h-3zM570 392.9h3v4.3h-3zM576 392.9h3v4.3h-3zM588 392.9h9v4.3h-9zM339 397.2h3v4.3h-3zM357 397.2h3v4.3h-3zM369 397.2h3v4.3h-3zM378 397.2h3v4.3h-3zM387 397.2h3v4.3h-3zM399 397.2h6v4.3h-6zM411 397.2h6v4.3h-6zM483 397.2h3v4.3h-3zM558 397.2h3v4.3h-3zM579 397.2h3v4.3h-3zM594 397.2h3v4.3h-3zM327 401.5h12v4.3h-12zM363 401.5h3v4.3h-3zM381 401.5h6v4.3h-6zM360 405.8h3v4.3h-3zM414 405.8h3v4.3h-3zM423 405.8h9v4.3h-9zM327 410.1h3v4.3h-3zM360 410.1h9v4.3h-9zM417 410.1h3v4.3h-3zM426 410.1h3v4.3h-3zM492 410.1h3v4.3h-3zM519 410.1h6v4.3h-6zM327 414.4h3v4.3h-3zM363 414.4h6v4.3h-6zM420 414.4h3v4.3h-3zM435 414.4h3v4.3h-3zM498 414.4h3v4.3h-3zM330 418.7h6v4.3h-6zM363 418.7h3v4.3h-3zM354 423h3v4.3h-3zM351 427.3h3v4.3h-3zM417 427.3h3v4.3h-3zM438 427.3h6v4.3h-6zM450 427.3h6v4.3h-6zM465 427.3h3v4.3h-3zM339 431.6h9v4.3h-9zM441 431.6h3v4.3h-3zM498 431.6h3v4.3h-3zM318 435.9h3v4.3h-3zM468 435.9h3v4.3h-3zM498 435.9h3v4.3h-3zM552 435.9h3v4.3h-3zM321 440.2h3v4.3h-3zM327 440.2h3v4.3h-3zM291 444.5h3v4.3h-3zM300 444.5h3v4.3h-3zM312 444.5h6v4.3h-6zM321 444.5h3v4.3h-3zM327 444.5h3v4.3h-3zM456 444.5h3v4.3h-3zM465 444.5h3v4.3h-3zM471 444.5h3v4.3h-3zM513 444.5h3v4.3h-3zM543 444.5h6v4.3h-6zM294 448.8h3v4.3h-3zM315 448.8h9v4.3h-9zM336 448.8h6v4.3h-6zM369 448.8h3v4.3h-3zM471 448.8h3v4.3h-3zM513 448.8h3v4.3h-3zM294 453.1h6v4.3h-6zM312 453.1h9v4.3h-9zM324 453.1h3v4.3h-3zM396 453.1h3v4.3h-3zM582 453.1h3v4.3h-3zM324 457.4h3v4.3h-3zM399 457.4h6v4.3h-6zM495 457.4h3v4.3h-3zM513 457.4h6v4.3h-6zM312 461.7h3v4.3h-3zM342 461.7h3v4.3h-3zM396 461.7h6v4.3h-6zM489 461.7h9v4.3h-9zM567 461.7h9v4.3h-9zM582 461.7h3v4.3h-3zM330 466h3v4.3h-3zM345 466h3v4.3h-3zM402 466h3v4.3h-3zM492 466h6v4.3h-6zM528 466h6v4.3h-6zM537 466h3v4.3h-3zM345 470.3h3v4.3h-3zM372 470.3h3v4.3h-3zM417 470.3h3v4.3h-3zM480 470.3h3v4.3h-3zM486 470.3h3v4.3h-3zM492 470.3h3v4.3h-3zM504 470.3h3v4.3h-3zM525 470.3h3v4.3h-3zM534 470.3h3v4.3h-3zM369 474.6h3v4.3h-3zM405 474.6h3v4.3h-3zM438 474.6h3v4.3h-3zM444 474.6h3v4.3h-3zM492 474.6h3v4.3h-3zM531 474.6h3v4.3h-3zM351 478.9h3v4.3h-3zM405 478.9h6v4.3h-6zM438 478.9h3v4.3h-3zM444 478.9h6v4.3h-6zM513 478.9h3v4.3h-3zM528 478.9h3v4.3h-3zM393 483.2h3v4.3h-3zM438 483.2h9v4.3h-9zM507 483.2h3v4.3h-3zM513 483.2h3v4.3h-3zM354 487.5h6v4.3h-6zM378 487.5h3v4.3h-3zM390 487.5h3v4.3h-3zM492 487.5h3v4.3h-3zM504 487.5h3v4.3h-3zM351 491.8h3v4.3h-3zM357 491.8h3v4.3h-3zM363 491.8h9v4.3h-9zM378 491.8h3v4.3h-3zM390 491.8h3v4.3h-3zM447 491.8h3v4.3h-3zM462 491.8h3v4.3h-3zM486 491.8h3v4.3h-3zM492 491.8h3v4.3h-3zM432 496.1h6v4.3h-6zM462 496.1h3v4.3h-3zM483 496.1h3v4.3h-3zM489 496.1h6v4.3h-6zM432 500.4h3v4.3h-3zM444 500.4h6v4.3h-6zM465 500.4h6v4.3h-6zM480 500.4h6v4.3h-6zM444 504.7h3v4.3h-3zM468 504.7h6v4.3h-6zM555 504.7h3v4.3h-3zM360 509h3v4.3h-3zM441 509h6v4.3h-6zM468 509h3v4.3h-3zM474 509h3v4.3h-3zM381 513.3h3v4.3h-3zM435 513.3h3v4.3h-3zM462 513.3h9v4.3h-9zM474 513.3h3v4.3h-3zM552 513.3h3v4.3h-3zM432 517.6h3v4.3h-3zM555 517.6h3v4.3h-3zM417 521.9h3v4.3h-3zM435 521.9h3v4.3h-3zM441 521.9h6v4.3h-6zM498 521.9h3v4.3h-3zM504 521.9h3v4.3h-3zM537 521.9h3v4.3h-3zM420 526.2h3v4.3h-3zM441 526.2h3v4.3h-3zM471 526.2h3v4.3h-3zM495 526.2h9v4.3h-9zM543 526.2h6v4.3h-6zM411 530.5h6v4.3h-6zM420 530.5h3v4.3h-3zM441 530.5h6v4.3h-6zM477 530.5h3v4.3h-3zM495 530.5h3v4.3h-3zM501 530.5h9v4.3h-9zM378 534.8h3v4.3h-3zM408 534.8h3v4.3h-3zM414 534.8h3v4.3h-3zM426 534.8h3v4.3h-3zM435 534.8h6v4.3h-6zM459 534.8h3v4.3h-3zM468 534.8h3v4.3h-3zM483 534.8h12v4.3h-12zM507 534.8h6v4.3h-6zM411 539.1h6v4.3h-6zM426 539.1h3v4.3h-3zM432 539.1h3v4.3h-3zM453 539.1h3v4.3h-3zM477 539.1h3v4.3h-3zM483 539.1h6v4.3h-6zM492 539.1h3v4.3h-3zM504 539.1h3v4.3h-3zM513 539.1h3v4.3h-3zM408 543.4h9v4.3h-9zM420 543.4h3v4.3h-3zM444 543.4h3v4.3h-3zM450 543.4h3v4.3h-3zM468 543.4h3v4.3h-3zM474 543.4h12v4.3h-12zM492 543.4h3v4.3h-3zM498 543.4h6v4.3h-6zM510 543.4h3v4.3h-3zM378 547.7h3v4.3h-3zM441 547.7h3v4.3h-3zM447 547.7h3v4.3h-3zM474 547.7h3v4.3h-3zM504 547.7h3v4.3h-3zM513 547.7h3v4.3h-3zM378 552h3v4.3h-3zM384 552h3v4.3h-3zM426 552h6v4.3h-6zM444 552h6v4.3h-6zM519 552h3v4.3h-3zM528 552h6v4.3h-6zM474 556.3h3v4.3h-3zM378 560.6h3v4.3h-3zM423 560.6h3v4.3h-3zM480 560.6h6v4.3h-6zM495 560.6h3v4.3h-3zM504 560.6h3v4.3h-3zM531 560.6h3v4.3h-3zM420 564.9h3v4.3h-3zM429 564.9h9v4.3h-9zM528 564.9h3v4.3h-3zM525 569.2h3v4.3h-3zM531 569.2h3v4.3h-3zM363 573.5h3v4.3h-3zM426 573.5h3v4.3h-3zM363 577.8h3v4.3h-3zM381 577.8h3v4.3h-3zM363 582.1h6v4.3h-6zM381 586.4h3v4.3h-3zM363 607.9h3v4.3h-3zM321 616.5h6v4.3h-6z"/>
<path fill="#9bd368" d="M606 263.9h3v4.3h-3zM606 268.2h3v4.3h-3zM627 268.2h6v4.3h-6zM606 272.5h3v4.3h-3zM615 272.5h3v4.3h-3zM597 276.8h3v4.3h-3zM561 285.4h3v4.3h-3zM540 289.7h3v4.3h-3zM546 289.7h9v4.3h-9zM558 289.7h3v4.3h-3zM564 289.7h3v4.3h-3zM516 302.6h3v4.3h-3zM504 306.9h3v4.3h-3zM510 306.9h3v4.3h-3zM519 306.9h6v4.3h-6zM504 311.2h6v4.3h-6zM513 311.2h3v4.3h-3zM510 315.5h3v4.3h-3zM504 319.8h9v4.3h-9zM492 324.1h6v4.3h-6zM510 324.1h3v4.3h-3zM516 324.1h3v4.3h-3zM432 328.4h3v4.3h-3zM438 328.4h3v4.3h-3zM468 328.4h6v4.3h-6zM480 328.4h6v4.3h-6zM492 328.4h3v4.3h-3zM510 328.4h3v4.3h-3zM390 332.7h3v4.3h-3zM408 332.7h3v4.3h-3zM429 332.7h3v4.3h-3zM483 332.7h3v4.3h-3zM510 332.7h3v4.3h-3zM381 337h3v4.3h-3zM387 337h3v4.3h-3zM489 337h6v4.3h-6zM498 337h3v4.3h-3zM486 341.3h3v4.3h-3zM513 341.3h6v4.3h-6zM540 341.3h6v4.3h-6zM519 345.6h3v4.3h-3zM531 345.6h3v4.3h-3zM537 345.6h3v4.3h-3zM555 345.6h9v4.3h-9zM570 345.6h6v4.3h-6zM579 345.6h3v4.3h-3zM588 345.6h3v4.3h-3zM381 349.9h3v4.3h-3zM486 349.9h3v4.3h-3zM531 349.9h3v4.3h-3zM543 349.9h6v4.3h-6zM570 349.9h6v4.3h-6zM582 349.9h3v4.3h-3zM606 349.9h3v4.3h-3zM612 349.9h6v4.3h-6zM471 354.2h6v4.3h-6zM483 354.2h9v4.3h-9zM552 354.2h3v4.3h-3zM567 354.2h9v4.3h-9zM600 354.2h3v4.3h-3zM606 354.2h6v4.3h-6zM495 358.5h3v4.3h-3zM513 358.5h6v4.3h-6zM552 358.5h3v4.3h-3zM573 358.5h3v4.3h-3zM390 362.8h3v4.3h-3zM498 362.8h3v4.3h-3zM510 362.8h3v4.3h-3zM519 362.8h3v4.3h-3zM573 362.8h3v4.3h-3zM585 362.8h6v4.3h-6zM594 362.8h9v4.3h-9zM360 367.1h3v4.3h-3zM387 367.1h6v4.3h-6zM444 367.1h3v4.3h-3zM468 367.1h3v4.3h-3zM498 367.1h3v4.3h-3zM576 367.1h3v4.3h-3zM585 367.1h3v4.3h-3zM594 367.1h3v4.3h-3zM600 367.1h3v4.3h-3zM357 371.4h6v4.3h-6zM375 371.4h3v4.3h-3zM384 371.4h6v4.3h-6zM396 371.4h3v4.3h-3zM408 371.4h6v4.3h-6zM423 371.4h12v4.3h-12zM441 371.4h9v4.3h-9zM462 371.4h9v4.3h-9zM498 371.4h3v4.3h-3zM549 371.4h3v4.3h-3zM573 371.4h12v4.3h-12zM588 371.4h3v4.3h-3zM600 371.4h3v4.3h-3zM360 375.7h3v4.3h-3zM375 375.7h12v4.3h-12zM390 375.7h6v4.3h-6zM420 375.7h3v4.3h-3zM435 375.7h3v4.3h-3zM441 375.7h3v4.3h-3zM471 375.7h3v4.3h-3zM507 375.7h3v4.3h-3zM579 375.7h12v4.3h-12zM357 380h6v4.3h-6zM375 380h3v4.3h-3zM384 380h3v4.3h-3zM417 380h6v4.3h-6zM432 380h9v4.3h-9zM474 380h3v4.3h-3zM507 380h3v4.3h-3zM588 380h3v4.3h-3zM597 380h3v4.3h-3zM357 384.3h6v4.3h-6zM381 384.3h6v4.3h-6zM390 384.3h3v4.3h-3zM594 384.3h9v4.3h-9zM351 388.6h18v4.3h-18zM381 388.6h3v4.3h-3zM408 388.6h6v4.3h-6zM420 388.6h3v4.3h-3zM429 388.6h6v4.3h-6zM471 388.6h3v4.3h-3zM519 388.6h3v4.3h-3zM357 392.9h3v4.3h-3zM363 392.9h3v4.3h-3zM378 392.9h6v4.3h-6zM405 392.9h3v4.3h-3zM411 392.9h3v4.3h-3zM417 392.9h3v4.3h-3zM423 392.9h12v4.3h-12zM474 392.9h9v4.3h-9zM486 392.9h9v4.3h-9zM528 392.9h3v4.3h-3zM534 392.9h3v4.3h-3zM558 392.9h6v4.3h-6zM573 392.9h3v4.3h-3zM342 397.2h3v4.3h-3zM354 397.2h3v4.3h-3zM360 397.2h3v4.3h-3zM366 397.2h3v4.3h-3zM405 397.2h6v4.3h-6zM420 397.2h6v4.3h-6zM486 397.2h3v4.3h-3zM537 397.2h3v4.3h-3zM561 397.2h3v4.3h-3zM567 397.2h6v4.3h-6zM576 397.2h3v4.3h-3zM342 401.5h3v4.3h-3zM354 401.5h9v4.3h-9zM423 401.5h3v4.3h-3zM483 401.5h6v4.3h-6zM498 401.5h3v4.3h-3zM528 401.5h3v4.3h-3zM594 401.5h3v4.3h-3zM330 405.8h3v4.3h-3zM363 405.8h6v4.3h-6zM435 405.8h3v4.3h-3zM486 405.8h3v4.3h-3zM495 405.8h9v4.3h-9zM531 405.8h3v4.3h-3zM330 410.1h3v4.3h-3zM354 410.1h6v4.3h-6zM420 410.1h6v4.3h-6zM501 410.1h3v4.3h-3zM525 410.1h6v4.3h-6zM357 414.4h6v4.3h-6zM417 414.4h3v4.3h-3zM504 414.4h3v4.3h-3zM519 414.4h6v4.3h-6zM336 418.7h3v4.3h-3zM339 423h3v4.3h-3zM450 423h3v4.3h-3zM585 423h3v4.3h-3zM339 427.3h3v4.3h-3zM348 427.3h3v4.3h-3zM444 427.3h6v4.3h-6zM468 427.3h3v4.3h-3zM531 427.3h3v4.3h-3zM585 427.3h3v4.3h-3zM465 431.6h6v4.3h-6zM501 431.6h3v4.3h-3zM531 431.6h3v4.3h-3zM282 435.9h3v4.3h-3zM471 435.9h3v4.3h-3zM495 435.9h3v4.3h-3zM507 435.9h3v4.3h-3zM555 435.9h3v4.3h-3zM318 440.2h3v4.3h-3zM324 440.2h3v4.3h-3zM471 440.2h9v4.3h-9zM495 440.2h3v4.3h-3zM513 440.2h3v4.3h-3zM318 444.5h3v4.3h-3zM516 444.5h6v4.3h-6zM312 448.8h3v4.3h-3zM324 448.8h3v4.3h-3zM474 448.8h3v4.3h-3zM519 448.8h3v4.3h-3zM540 448.8h3v4.3h-3zM585 448.8h3v4.3h-3zM339 453.1h3v4.3h-3zM489 453.1h3v4.3h-3zM519 453.1h3v4.3h-3zM339 457.4h3v4.3h-3zM489 457.4h3v4.3h-3zM519 457.4h3v4.3h-3zM576 457.4h3v4.3h-3zM471 461.7h6v4.3h-6zM486 461.7h3v4.3h-3zM312 466h3v4.3h-3zM372 466h3v4.3h-3zM471 466h6v4.3h-6zM483 466h6v4.3h-6zM549 466h3v4.3h-3zM564 466h9v4.3h-9zM474 470.3h6v4.3h-6zM528 470.3h3v4.3h-3zM537 470.3h3v4.3h-3zM564 470.3h6v4.3h-6zM345 474.6h6v4.3h-6zM354 474.6h6v4.3h-6zM411 474.6h3v4.3h-3zM522 474.6h6v4.3h-6zM534 474.6h3v4.3h-3zM354 478.9h3v4.3h-3zM435 478.9h3v4.3h-3zM519 478.9h9v4.3h-9zM531 478.9h3v4.3h-3zM351 483.2h9v4.3h-9zM516 483.2h6v4.3h-6zM525 483.2h6v4.3h-6zM360 487.5h3v4.3h-3zM375 487.5h3v4.3h-3zM495 487.5h3v4.3h-3zM501 487.5h3v4.3h-3zM507 487.5h9v4.3h-9zM525 487.5h9v4.3h-9zM483 491.8h3v4.3h-3zM507 491.8h9v4.3h-9zM528 491.8h6v4.3h-6zM444 496.1h3v4.3h-3zM486 496.1h3v4.3h-3zM495 496.1h3v4.3h-3zM504 496.1h3v4.3h-3zM513 496.1h6v4.3h-6zM531 496.1h3v4.3h-3zM489 500.4h9v4.3h-9zM516 500.4h6v4.3h-6zM549 504.7h6v4.3h-6zM471 509h3v4.3h-3zM477 509h3v4.3h-3zM522 509h12v4.3h-12zM552 509h3v4.3h-3zM438 513.3h6v4.3h-6zM471 513.3h3v4.3h-3zM531 513.3h3v4.3h-3zM540 513.3h3v4.3h-3zM435 517.6h12v4.3h-12zM459 517.6h3v4.3h-3zM468 517.6h3v4.3h-3zM540 517.6h3v4.3h-3zM438 521.9h3v4.3h-3zM477 521.9h3v4.3h-3zM501 521.9h3v4.3h-3zM534 521.9h3v4.3h-3zM540 521.9h3v4.3h-3zM549 521.9h6v4.3h-6zM468 526.2h3v4.3h-3zM504 526.2h6v4.3h-6zM537 526.2h6v4.3h-6zM417 530.5h3v4.3h-3zM447 530.5h3v4.3h-3zM480 530.5h6v4.3h-6zM537 530.5h6v4.3h-6zM420 534.8h6v4.3h-6zM441 534.8h3v4.3h-3zM495 534.8h9v4.3h-9zM420 539.1h6v4.3h-6zM429 539.1h3v4.3h-3zM447 539.1h6v4.3h-6zM474 539.1h3v4.3h-3zM510 539.1h3v4.3h-3zM417 543.4h3v4.3h-3zM426 543.4h3v4.3h-3zM441 543.4h3v4.3h-3zM447 543.4h3v4.3h-3zM471 543.4h3v4.3h-3zM513 543.4h3v4.3h-3zM381 547.7h3v4.3h-3zM411 547.7h3v4.3h-3zM417 547.7h3v4.3h-3zM438 547.7h3v4.3h-3zM444 547.7h3v4.3h-3zM471 547.7h3v4.3h-3zM492 547.7h3v4.3h-3zM534 547.7h3v4.3h-3zM408 552h6v4.3h-6zM432 552h3v4.3h-3zM441 552h3v4.3h-3zM495 552h3v4.3h-3zM522 552h3v4.3h-3zM411 556.3h3v4.3h-3zM423 556.3h6v4.3h-6zM435 556.3h6v4.3h-6zM444 556.3h3v4.3h-3zM480 556.3h3v4.3h-3zM414 560.6h9v4.3h-9zM438 560.6h3v4.3h-3zM477 560.6h3v4.3h-3zM438 564.9h3v4.3h-3zM498 564.9h3v4.3h-3zM504 564.9h6v4.3h-6zM531 564.9h3v4.3h-3zM432 569.2h3v4.3h-3zM528 569.2h3v4.3h-3zM366 573.5h3v4.3h-3zM366 577.8h3v4.3h-3zM324 612.2h3v4.3h-3z"/>
<path fill="#8bcb68" d="M624 268.2h3v4.3h-3zM609 272.5h3v4.3h-3zM633 272.5h3v4.3h-3zM579 285.4h3v4.3h-3zM543 289.7h3v4.3h-3zM561 289.7h3v4.3h-3zM567 289.7h6v4.3h-6zM507 306.9h3v4.3h-3zM513 306.9h6v4.3h-6zM516 311.2h6v4.3h-6zM513 319.8h6v4.3h-6zM498 324.1h3v4.3h-3zM507 324.1h3v4.3h-3zM576 324.1h3v4.3h-3zM639 324.1h3v4.3h-3zM453 328.4h3v4.3h-3zM495 328.4h3v4.3h-3zM639 328.4h3v4.3h-3zM414 332.7h3v4.3h-3zM423 332.7h3v4.3h-3zM432 332.7h3v4.3h-3zM462 332.7h3v4.3h-3zM498 332.7h3v4.3h-3zM519 332.7h3v4.3h-3zM384 337h3v4.3h-3zM390 337h3v4.3h-3zM483 337h3v4.3h-3zM501 337h6v4.3h-6zM519 337h6v4.3h-6zM540 337h3v4.3h-3zM384 341.3h3v4.3h-3zM393 341.3h3v4.3h-3zM483 341.3h3v4.3h-3zM492 341.3h3v4.3h-3zM501 341.3h12v4.3h-12zM522 341.3h6v4.3h-6zM537 341.3h3v4.3h-3zM381 345.6h3v4.3h-3zM387 345.6h3v4.3h-3zM492 345.6h3v4.3h-3zM510 345.6h9v4.3h-9zM522 345.6h3v4.3h-3zM528 345.6h3v4.3h-3zM534 345.6h3v4.3h-3zM543 345.6h3v4.3h-3zM564 345.6h3v4.3h-3zM576 345.6h3v4.3h-3zM582 345.6h3v4.3h-3zM591 345.6h3v4.3h-3zM600 345.6h6v4.3h-6zM627 345.6h3v4.3h-3zM384 349.9h3v4.3h-3zM492 349.9h3v4.3h-3zM513 349.9h6v4.3h-6zM528 349.9h3v4.3h-3zM537 349.9h6v4.3h-6zM549 349.9h6v4.3h-6zM576 349.9h6v4.3h-6zM600 349.9h6v4.3h-6zM609 349.9h3v4.3h-3zM387 354.2h3v4.3h-3zM468 354.2h3v4.3h-3zM477 354.2h6v4.3h-6zM492 354.2h3v4.3h-3zM510 354.2h3v4.3h-3zM516 354.2h3v4.3h-3zM528 354.2h12v4.3h-12zM546 354.2h6v4.3h-6zM576 354.2h3v4.3h-3zM603 354.2h3v4.3h-3zM387 358.5h6v4.3h-6zM510 358.5h3v4.3h-3zM528 358.5h9v4.3h-9zM549 358.5h3v4.3h-3zM402 362.8h3v4.3h-3zM447 362.8h3v4.3h-3zM468 362.8h3v4.3h-3zM501 362.8h3v4.3h-3zM507 362.8h3v4.3h-3zM513 362.8h6v4.3h-6zM528 362.8h3v4.3h-3zM534 362.8h3v4.3h-3zM546 362.8h6v4.3h-6zM576 362.8h3v4.3h-3zM591 362.8h3v4.3h-3zM396 367.1h3v4.3h-3zM402 367.1h9v4.3h-9zM423 367.1h6v4.3h-6zM450 367.1h6v4.3h-6zM534 367.1h6v4.3h-6zM546 367.1h6v4.3h-6zM573 367.1h3v4.3h-3zM579 367.1h3v4.3h-3zM597 367.1h3v4.3h-3zM390 371.4h6v4.3h-6zM414 371.4h3v4.3h-3zM420 371.4h3v4.3h-3zM435 371.4h3v4.3h-3zM450 371.4h3v4.3h-3zM459 371.4h3v4.3h-3zM501 371.4h6v4.3h-6zM546 371.4h3v4.3h-3zM585 371.4h3v4.3h-3zM387 375.7h3v4.3h-3zM414 375.7h6v4.3h-6zM423 375.7h3v4.3h-3zM438 375.7h3v4.3h-3zM444 375.7h6v4.3h-6zM462 375.7h6v4.3h-6zM504 375.7h3v4.3h-3zM525 375.7h9v4.3h-9zM543 375.7h6v4.3h-6zM381 380h3v4.3h-3zM441 380h6v4.3h-6zM471 380h3v4.3h-3zM522 380h12v4.3h-12zM543 380h3v4.3h-3zM429 384.3h6v4.3h-6zM471 384.3h3v4.3h-3zM507 384.3h6v4.3h-6zM519 384.3h9v4.3h-9zM345 388.6h3v4.3h-3zM435 388.6h9v4.3h-9zM522 388.6h12v4.3h-12zM543 388.6h3v4.3h-3zM342 392.9h6v4.3h-6zM384 392.9h3v4.3h-3zM408 392.9h3v4.3h-3zM420 392.9h3v4.3h-3zM435 392.9h9v4.3h-9zM450 392.9h6v4.3h-6zM459 392.9h3v4.3h-3zM495 392.9h3v4.3h-3zM501 392.9h3v4.3h-3zM525 392.9h3v4.3h-3zM531 392.9h3v4.3h-3zM564 392.9h6v4.3h-6zM351 397.2h3v4.3h-3zM381 397.2h6v4.3h-6zM426 397.2h6v4.3h-6zM477 397.2h6v4.3h-6zM489 397.2h3v4.3h-3zM525 397.2h12v4.3h-12zM588 397.2h3v4.3h-3zM351 401.5h3v4.3h-3zM426 401.5h3v4.3h-3zM432 401.5h3v4.3h-3zM480 401.5h3v4.3h-3zM489 401.5h3v4.3h-3zM495 401.5h3v4.3h-3zM501 401.5h3v4.3h-3zM522 401.5h3v4.3h-3zM531 401.5h9v4.3h-9zM591 401.5h3v4.3h-3zM336 405.8h9v4.3h-9zM351 405.8h9v4.3h-9zM483 405.8h3v4.3h-3zM489 405.8h6v4.3h-6zM519 405.8h12v4.3h-12zM534 405.8h3v4.3h-3zM339 410.1h3v4.3h-3zM345 410.1h9v4.3h-9zM483 410.1h3v4.3h-3zM489 410.1h3v4.3h-3zM504 410.1h3v4.3h-3zM513 410.1h6v4.3h-6zM588 410.1h3v4.3h-3zM330 414.4h6v4.3h-6zM339 414.4h3v4.3h-3zM348 414.4h9v4.3h-9zM495 414.4h3v4.3h-3zM501 414.4h3v4.3h-3zM510 414.4h9v4.3h-9zM534 414.4h3v4.3h-3zM588 414.4h3v4.3h-3zM348 418.7h3v4.3h-3zM354 418.7h3v4.3h-3zM438 418.7h3v4.3h-3zM477 418.7h3v4.3h-3zM507 418.7h6v4.3h-6zM519 418.7h9v4.3h-9zM534 418.7h3v4.3h-3zM588 418.7h6v4.3h-6zM351 423h3v4.3h-3zM462 423h3v4.3h-3zM468 423h3v4.3h-3zM477 423h6v4.3h-6zM588 423h3v4.3h-3zM345 427.3h3v4.3h-3zM459 427.3h6v4.3h-6zM471 427.3h3v4.3h-3zM477 427.3h3v4.3h-3zM501 427.3h3v4.3h-3zM528 427.3h3v4.3h-3zM471 431.6h12v4.3h-12zM504 431.6h6v4.3h-6zM525 431.6h6v4.3h-6zM474 435.9h6v4.3h-6zM510 435.9h3v4.3h-3zM531 435.9h3v4.3h-3zM549 435.9h3v4.3h-3zM516 440.2h9v4.3h-9zM474 444.5h6v4.3h-6zM297 448.8h3v4.3h-3zM516 448.8h3v4.3h-3zM522 448.8h3v4.3h-3zM327 453.1h3v4.3h-3zM333 453.1h3v4.3h-3zM477 453.1h3v4.3h-3zM513 453.1h6v4.3h-6zM522 453.1h3v4.3h-3zM327 457.4h3v4.3h-3zM486 457.4h3v4.3h-3zM336 461.7h3v4.3h-3zM477 461.7h3v4.3h-3zM483 461.7h3v4.3h-3zM540 461.7h3v4.3h-3zM576 461.7h6v4.3h-6zM477 466h6v4.3h-6zM555 466h9v4.3h-9zM573 466h9v4.3h-9zM570 470.3h3v4.3h-3zM528 474.6h3v4.3h-3zM564 474.6h3v4.3h-3zM570 474.6h3v4.3h-3zM363 478.9h3v4.3h-3zM363 483.2h3v4.3h-3zM369 483.2h3v4.3h-3zM522 483.2h3v4.3h-3zM531 483.2h3v4.3h-3zM372 487.5h3v4.3h-3zM396 487.5h3v4.3h-3zM498 487.5h3v4.3h-3zM516 487.5h6v4.3h-6zM372 491.8h3v4.3h-3zM495 491.8h3v4.3h-3zM501 491.8h6v4.3h-6zM516 491.8h12v4.3h-12zM534 491.8h3v4.3h-3zM498 496.1h6v4.3h-6zM510 496.1h3v4.3h-3zM528 496.1h3v4.3h-3zM486 500.4h3v4.3h-3zM498 500.4h3v4.3h-3zM504 500.4h3v4.3h-3zM510 500.4h6v4.3h-6zM528 500.4h3v4.3h-3zM480 504.7h6v4.3h-6zM492 504.7h9v4.3h-9zM507 504.7h3v4.3h-3zM546 504.7h3v4.3h-3zM516 509h6v4.3h-6zM534 509h3v4.3h-3zM540 509h6v4.3h-6zM549 509h3v4.3h-3zM504 513.3h3v4.3h-3zM519 513.3h3v4.3h-3zM525 513.3h6v4.3h-6zM549 513.3h3v4.3h-3zM462 517.6h6v4.3h-6zM495 517.6h9v4.3h-9zM513 517.6h12v4.3h-12zM531 517.6h9v4.3h-9zM543 517.6h3v4.3h-3zM552 517.6h3v4.3h-3zM453 521.9h3v4.3h-3zM474 521.9h3v4.3h-3zM480 521.9h3v4.3h-3zM495 521.9h3v4.3h-3zM510 521.9h9v4.3h-9zM543 521.9h6v4.3h-6zM444 526.2h3v4.3h-3zM450 526.2h6v4.3h-6zM465 526.2h3v4.3h-3zM492 526.2h3v4.3h-3zM510 526.2h3v4.3h-3zM516 526.2h3v4.3h-3zM459 530.5h3v4.3h-3zM486 530.5h9v4.3h-9zM510 530.5h6v4.3h-6zM417 534.8h3v4.3h-3zM513 534.8h3v4.3h-3zM417 539.1h3v4.3h-3zM423 543.4h3v4.3h-3zM414 547.7h3v4.3h-3zM420 547.7h3v4.3h-3zM432 547.7h6v4.3h-6zM516 547.7h3v4.3h-3zM525 547.7h6v4.3h-6zM435 552h6v4.3h-6zM420 556.3h3v4.3h-3zM441 556.3h3v4.3h-3zM435 569.2h3v4.3h-3z"/>
<path fill="#7bc269" d="M630 272.5h3v4.3h-3zM633 276.8h3v4.3h-3zM594 281.1h3v4.3h-3zM633 281.1h3v4.3h-3zM633 285.4h3v4.3h-3zM630 289.7h3v4.3h-3zM627 294h3v4.3h-3zM627 298.3h3v4.3h-3zM522 311.2h3v4.3h-3zM513 315.5h12v4.3h-12zM519 319.8h3v4.3h-3zM636 319.8h3v4.3h-3zM501 324.1h3v4.3h-3zM519 324.1h3v4.3h-3zM636 324.1h3v4.3h-3zM450 328.4h3v4.3h-3zM456 328.4h3v4.3h-3zM474 328.4h6v4.3h-6zM507 328.4h3v4.3h-3zM519 328.4h3v4.3h-3zM411 332.7h3v4.3h-3zM417 332.7h6v4.3h-6zM441 332.7h6v4.3h-6zM456 332.7h6v4.3h-6zM465 332.7h3v4.3h-3zM495 332.7h3v4.3h-3zM504 332.7h3v4.3h-3zM522 332.7h3v4.3h-3zM393 337h3v4.3h-3zM399 337h3v4.3h-3zM495 337h3v4.3h-3zM525 337h6v4.3h-6zM537 337h3v4.3h-3zM543 337h6v4.3h-6zM387 341.3h6v4.3h-6zM399 341.3h3v4.3h-3zM495 341.3h6v4.3h-6zM528 341.3h9v4.3h-9zM546 341.3h6v4.3h-6zM576 341.3h3v4.3h-3zM630 341.3h3v4.3h-3zM384 345.6h3v4.3h-3zM390 345.6h6v4.3h-6zM483 345.6h3v4.3h-3zM489 345.6h3v4.3h-3zM495 345.6h3v4.3h-3zM501 345.6h9v4.3h-9zM525 345.6h3v4.3h-3zM546 345.6h9v4.3h-9zM594 345.6h6v4.3h-6zM606 345.6h3v4.3h-3zM612 345.6h6v4.3h-6zM621 345.6h6v4.3h-6zM390 349.9h3v4.3h-3zM471 349.9h9v4.3h-9zM510 349.9h3v4.3h-3zM519 349.9h9v4.3h-9zM534 349.9h3v4.3h-3zM618 349.9h6v4.3h-6zM498 354.2h3v4.3h-3zM504 354.2h3v4.3h-3zM513 354.2h3v4.3h-3zM519 354.2h3v4.3h-3zM525 354.2h3v4.3h-3zM540 354.2h6v4.3h-6zM579 354.2h6v4.3h-6zM393 358.5h9v4.3h-9zM498 358.5h3v4.3h-3zM519 358.5h6v4.3h-6zM537 358.5h12v4.3h-12zM393 362.8h9v4.3h-9zM444 362.8h3v4.3h-3zM504 362.8h3v4.3h-3zM522 362.8h3v4.3h-3zM531 362.8h3v4.3h-3zM537 362.8h6v4.3h-6zM579 362.8h6v4.3h-6zM393 367.1h3v4.3h-3zM399 367.1h3v4.3h-3zM438 367.1h6v4.3h-6zM456 367.1h12v4.3h-12zM501 367.1h3v4.3h-3zM507 367.1h9v4.3h-9zM522 367.1h12v4.3h-12zM540 367.1h6v4.3h-6zM417 371.4h3v4.3h-3zM438 371.4h3v4.3h-3zM453 371.4h6v4.3h-6zM510 371.4h3v4.3h-3zM519 371.4h3v4.3h-3zM528 371.4h3v4.3h-3zM537 371.4h9v4.3h-9zM459 375.7h3v4.3h-3zM468 375.7h3v4.3h-3zM510 375.7h3v4.3h-3zM534 375.7h3v4.3h-3zM540 375.7h3v4.3h-3zM447 380h3v4.3h-3zM468 380h3v4.3h-3zM534 380h3v4.3h-3zM540 380h3v4.3h-3zM435 384.3h3v4.3h-3zM444 384.3h3v4.3h-3zM528 384.3h9v4.3h-9zM543 384.3h3v4.3h-3zM447 388.6h3v4.3h-3zM462 388.6h3v4.3h-3zM507 388.6h6v4.3h-6zM534 388.6h9v4.3h-9zM348 392.9h6v4.3h-6zM456 392.9h3v4.3h-3zM462 392.9h6v4.3h-6zM471 392.9h3v4.3h-3zM504 392.9h3v4.3h-3zM522 392.9h3v4.3h-3zM543 392.9h3v4.3h-3zM432 397.2h6v4.3h-6zM450 397.2h3v4.3h-3zM465 397.2h6v4.3h-6zM474 397.2h3v4.3h-3zM492 397.2h3v4.3h-3zM498 397.2h3v4.3h-3zM522 397.2h3v4.3h-3zM540 397.2h3v4.3h-3zM429 401.5h3v4.3h-3zM435 401.5h3v4.3h-3zM471 401.5h3v4.3h-3zM477 401.5h3v4.3h-3zM492 401.5h3v4.3h-3zM504 401.5h3v4.3h-3zM519 401.5h3v4.3h-3zM525 401.5h3v4.3h-3zM333 405.8h3v4.3h-3zM345 405.8h6v4.3h-6zM477 405.8h6v4.3h-6zM504 405.8h3v4.3h-3zM510 405.8h3v4.3h-3zM516 405.8h3v4.3h-3zM591 405.8h3v4.3h-3zM333 410.1h3v4.3h-3zM342 410.1h3v4.3h-3zM438 410.1h3v4.3h-3zM480 410.1h3v4.3h-3zM486 410.1h3v4.3h-3zM507 410.1h6v4.3h-6zM531 410.1h6v4.3h-6zM336 414.4h3v4.3h-3zM342 414.4h6v4.3h-6zM438 414.4h3v4.3h-3zM468 414.4h3v4.3h-3zM474 414.4h9v4.3h-9zM492 414.4h3v4.3h-3zM507 414.4h3v4.3h-3zM525 414.4h3v4.3h-3zM531 414.4h3v4.3h-3zM591 414.4h3v4.3h-3zM339 418.7h9v4.3h-9zM351 418.7h3v4.3h-3zM465 418.7h3v4.3h-3zM480 418.7h3v4.3h-3zM501 418.7h6v4.3h-6zM516 418.7h3v4.3h-3zM348 423h3v4.3h-3zM441 423h3v4.3h-3zM447 423h3v4.3h-3zM453 423h9v4.3h-9zM465 423h3v4.3h-3zM474 423h3v4.3h-3zM498 423h3v4.3h-3zM504 423h9v4.3h-9zM522 423h9v4.3h-9zM342 427.3h3v4.3h-3zM474 427.3h3v4.3h-3zM498 427.3h3v4.3h-3zM504 427.3h6v4.3h-6zM522 427.3h6v4.3h-6zM480 435.9h3v4.3h-3zM513 435.9h3v4.3h-3zM519 435.9h3v4.3h-3zM525 435.9h3v4.3h-3zM480 440.2h6v4.3h-6zM486 444.5h3v4.3h-3zM522 444.5h3v4.3h-3zM477 448.8h6v4.3h-6zM534 448.8h3v4.3h-3zM525 453.1h3v4.3h-3zM336 457.4h3v4.3h-3zM477 457.4h3v4.3h-3zM483 457.4h3v4.3h-3zM480 461.7h3v4.3h-3zM558 461.7h3v4.3h-3zM540 466h3v4.3h-3zM546 466h3v4.3h-3zM552 466h3v4.3h-3zM549 470.3h6v4.3h-6zM558 470.3h6v4.3h-6zM537 474.6h3v4.3h-3zM567 474.6h3v4.3h-3zM357 478.9h6v4.3h-6zM534 478.9h3v4.3h-3zM573 478.9h3v4.3h-3zM363 487.5h3v4.3h-3zM369 487.5h3v4.3h-3zM522 487.5h3v4.3h-3zM534 487.5h3v4.3h-3zM498 491.8h3v4.3h-3zM507 496.1h3v4.3h-3zM519 496.1h9v4.3h-9zM534 496.1h3v4.3h-3zM501 500.4h3v4.3h-3zM507 500.4h3v4.3h-3zM525 500.4h3v4.3h-3zM543 500.4h6v4.3h-6zM552 500.4h6v4.3h-6zM486 504.7h6v4.3h-6zM501 504.7h6v4.3h-6zM510 504.7h9v4.3h-9zM543 504.7h3v4.3h-3zM480 509h3v4.3h-3zM489 509h3v4.3h-3zM537 509h3v4.3h-3zM546 509h3v4.3h-3zM477 513.3h3v4.3h-3zM495 513.3h6v4.3h-6zM507 513.3h3v4.3h-3zM516 513.3h3v4.3h-3zM522 513.3h3v4.3h-3zM534 513.3h6v4.3h-6zM543 513.3h6v4.3h-6zM471 517.6h3v4.3h-3zM489 517.6h6v4.3h-6zM504 517.6h9v4.3h-9zM525 517.6h6v4.3h-6zM546 517.6h6v4.3h-6zM456 521.9h6v4.3h-6zM471 521.9h3v4.3h-3zM492 521.9h3v4.3h-3zM507 521.9h3v4.3h-3zM519 521.9h9v4.3h-9zM531 521.9h3v4.3h-3zM483 526.2h6v4.3h-6zM513 526.2h3v4.3h-3zM519 526.2h3v4.3h-3zM531 526.2h6v4.3h-6zM453 534.8h6v4.3h-6zM516 534.8h3v4.3h-3zM435 539.1h3v4.3h-3zM444 539.1h3v4.3h-3zM516 539.1h3v4.3h-3zM534 539.1h3v4.3h-3zM429 543.4h3v4.3h-3zM516 543.4h3v4.3h-3zM423 547.7h3v4.3h-3zM519 547.7h3v4.3h-3zM531 547.7h3v4.3h-3zM414 552h3v4.3h-3zM423 552h3v4.3h-3zM414 556.3h3v4.3h-3zM477 556.3h3v4.3h-3z"/>
<path fill="#6ab96a" d="M612 272.5h3v4.3h-3zM618 272.5h3v4.3h-3zM600 276.8h12v4.3h-12zM591 281.1h3v4.3h-3zM591 285.4h6v4.3h-6zM573 289.7h3v4.3h-3zM546 294h3v4.3h-3zM624 294h3v4.3h-3zM597 298.3h3v4.3h-3zM624 302.6h3v4.3h-3zM630 306.9h3v4.3h-3zM633 311.2h3v4.3h-3zM522 319.8h3v4.3h-3zM504 324.1h3v4.3h-3zM522 324.1h3v4.3h-3zM498 328.4h9v4.3h-9zM522 328.4h3v4.3h-3zM534 328.4h3v4.3h-3zM636 328.4h3v4.3h-3zM435 332.7h6v4.3h-6zM450 332.7h6v4.3h-6zM468 332.7h6v4.3h-6zM480 332.7h3v4.3h-3zM501 332.7h3v4.3h-3zM534 332.7h3v4.3h-3zM540 332.7h3v4.3h-3zM636 332.7h3v4.3h-3zM396 337h3v4.3h-3zM402 337h6v4.3h-6zM432 337h3v4.3h-3zM447 337h3v4.3h-3zM453 337h18v4.3h-18zM534 337h3v4.3h-3zM633 337h3v4.3h-3zM396 341.3h3v4.3h-3zM432 341.3h3v4.3h-3zM480 341.3h3v4.3h-3zM552 341.3h6v4.3h-6zM588 341.3h3v4.3h-3zM396 345.6h3v4.3h-3zM432 345.6h3v4.3h-3zM471 345.6h6v4.3h-6zM498 345.6h3v4.3h-3zM609 345.6h3v4.3h-3zM618 345.6h3v4.3h-3zM387 349.9h3v4.3h-3zM396 349.9h3v4.3h-3zM498 349.9h12v4.3h-12zM390 354.2h6v4.3h-6zM507 354.2h3v4.3h-3zM522 354.2h3v4.3h-3zM468 358.5h3v4.3h-3zM501 358.5h3v4.3h-3zM525 358.5h3v4.3h-3zM405 362.8h6v4.3h-6zM525 362.8h3v4.3h-3zM543 362.8h3v4.3h-3zM411 367.1h3v4.3h-3zM417 367.1h6v4.3h-6zM429 367.1h9v4.3h-9zM504 367.1h3v4.3h-3zM516 367.1h6v4.3h-6zM513 371.4h6v4.3h-6zM522 371.4h6v4.3h-6zM531 371.4h6v4.3h-6zM450 375.7h6v4.3h-6zM519 375.7h6v4.3h-6zM537 375.7h3v4.3h-3zM462 380h3v4.3h-3zM510 380h3v4.3h-3zM519 380h3v4.3h-3zM537 380h3v4.3h-3zM513 384.3h3v4.3h-3zM537 384.3h6v4.3h-6zM453 388.6h9v4.3h-9zM465 388.6h6v4.3h-6zM504 388.6h3v4.3h-3zM444 392.9h6v4.3h-6zM468 392.9h3v4.3h-3zM498 392.9h3v4.3h-3zM507 392.9h9v4.3h-9zM519 392.9h3v4.3h-3zM537 392.9h6v4.3h-6zM345 397.2h6v4.3h-6zM438 397.2h12v4.3h-12zM453 397.2h12v4.3h-12zM495 397.2h3v4.3h-3zM501 397.2h9v4.3h-9zM345 401.5h6v4.3h-6zM438 401.5h6v4.3h-6zM438 405.8h3v4.3h-3zM468 405.8h3v4.3h-3zM474 405.8h3v4.3h-3zM507 405.8h3v4.3h-3zM513 405.8h3v4.3h-3zM336 410.1h3v4.3h-3zM441 410.1h3v4.3h-3zM468 410.1h12v4.3h-12zM591 410.1h3v4.3h-3zM462 414.4h6v4.3h-6zM471 414.4h3v4.3h-3zM483 414.4h9v4.3h-9zM528 414.4h3v4.3h-3zM441 418.7h3v4.3h-3zM456 418.7h9v4.3h-9zM468 418.7h9v4.3h-9zM483 418.7h3v4.3h-3zM495 418.7h6v4.3h-6zM513 418.7h3v4.3h-3zM528 418.7h6v4.3h-6zM342 423h6v4.3h-6zM444 423h3v4.3h-3zM471 423h3v4.3h-3zM495 423h3v4.3h-3zM501 423h3v4.3h-3zM516 423h6v4.3h-6zM531 423h3v4.3h-3zM480 427.3h6v4.3h-6zM495 427.3h3v4.3h-3zM483 431.6h3v4.3h-3zM516 431.6h3v4.3h-3zM522 431.6h3v4.3h-3zM483 435.9h3v4.3h-3zM492 435.9h3v4.3h-3zM516 435.9h3v4.3h-3zM522 435.9h3v4.3h-3zM486 440.2h3v4.3h-3zM480 444.5h3v4.3h-3zM489 444.5h3v4.3h-3zM489 448.8h3v4.3h-3zM483 453.1h6v4.3h-6zM480 457.4h3v4.3h-3zM543 466h3v4.3h-3zM540 470.3h3v4.3h-3zM555 470.3h3v4.3h-3zM549 474.6h6v4.3h-6zM558 474.6h6v4.3h-6zM561 478.9h6v4.3h-6zM570 478.9h3v4.3h-3zM360 483.2h3v4.3h-3zM534 483.2h3v4.3h-3zM561 483.2h6v4.3h-6zM570 483.2h3v4.3h-3zM537 487.5h9v4.3h-9zM567 487.5h3v4.3h-3zM546 491.8h3v4.3h-3zM564 491.8h3v4.3h-3zM543 496.1h6v4.3h-6zM558 496.1h3v4.3h-3zM522 500.4h3v4.3h-3zM531 500.4h3v4.3h-3zM549 500.4h3v4.3h-3zM519 504.7h3v4.3h-3zM531 504.7h6v4.3h-6zM540 504.7h3v4.3h-3zM483 509h6v4.3h-6zM492 509h3v4.3h-3zM513 509h3v4.3h-3zM501 513.3h3v4.3h-3zM513 513.3h3v4.3h-3zM474 517.6h3v4.3h-3zM486 517.6h3v4.3h-3zM483 521.9h6v4.3h-6zM528 521.9h3v4.3h-3zM522 526.2h9v4.3h-9zM516 530.5h6v4.3h-6zM444 534.8h3v4.3h-3zM519 534.8h6v4.3h-6zM534 534.8h3v4.3h-3zM519 539.1h3v4.3h-3zM435 543.4h6v4.3h-6zM519 543.4h12v4.3h-12zM534 543.4h3v4.3h-3z"/>
<path fill="#5baf6a" d="M621 272.5h9v4.3h-9zM630 276.8h3v4.3h-3zM597 281.1h6v4.3h-6zM612 281.1h3v4.3h-3zM630 281.1h3v4.3h-3zM612 285.4h3v4.3h-3zM630 285.4h3v4.3h-3zM576 289.7h3v4.3h-3zM588 289.7h3v4.3h-3zM594 289.7h3v4.3h-3zM627 289.7h3v4.3h-3zM543 294h3v4.3h-3zM552 294h3v4.3h-3zM573 294h3v4.3h-3zM594 294h3v4.3h-3zM594 298.3h3v4.3h-3zM606 298.3h3v4.3h-3zM618 298.3h9v4.3h-9zM594 302.6h3v4.3h-3zM600 302.6h3v4.3h-3zM618 302.6h6v4.3h-6zM627 302.6h3v4.3h-3zM588 306.9h6v4.3h-6zM615 306.9h3v4.3h-3zM525 311.2h3v4.3h-3zM597 311.2h6v4.3h-6zM525 315.5h3v4.3h-3zM528 328.4h6v4.3h-6zM537 328.4h6v4.3h-6zM570 328.4h3v4.3h-3zM447 332.7h3v4.3h-3zM477 332.7h3v4.3h-3zM525 332.7h6v4.3h-6zM537 332.7h3v4.3h-3zM543 332.7h6v4.3h-6zM408 337h3v4.3h-3zM423 337h9v4.3h-9zM435 337h6v4.3h-6zM450 337h3v4.3h-3zM471 337h3v4.3h-3zM480 337h3v4.3h-3zM531 337h3v4.3h-3zM402 341.3h3v4.3h-3zM408 341.3h3v4.3h-3zM429 341.3h3v4.3h-3zM450 341.3h3v4.3h-3zM456 341.3h3v4.3h-3zM465 341.3h3v4.3h-3zM471 341.3h6v4.3h-6zM558 341.3h3v4.3h-3zM564 341.3h6v4.3h-6zM573 341.3h3v4.3h-3zM579 341.3h9v4.3h-9zM594 341.3h6v4.3h-6zM603 341.3h3v4.3h-3zM615 341.3h3v4.3h-3zM624 341.3h6v4.3h-6zM399 345.6h3v4.3h-3zM435 345.6h3v4.3h-3zM477 345.6h6v4.3h-6zM393 349.9h3v4.3h-3zM399 349.9h3v4.3h-3zM414 349.9h3v4.3h-3zM438 349.9h3v4.3h-3zM468 349.9h3v4.3h-3zM396 354.2h6v4.3h-6zM435 354.2h6v4.3h-6zM465 354.2h3v4.3h-3zM501 354.2h3v4.3h-3zM402 358.5h6v4.3h-6zM441 358.5h6v4.3h-6zM504 358.5h6v4.3h-6zM441 362.8h3v4.3h-3zM465 362.8h3v4.3h-3zM414 367.1h3v4.3h-3zM456 375.7h3v4.3h-3zM513 375.7h6v4.3h-6zM459 380h3v4.3h-3zM465 380h3v4.3h-3zM513 380h6v4.3h-6zM447 384.3h3v4.3h-3zM462 384.3h3v4.3h-3zM468 384.3h3v4.3h-3zM516 384.3h3v4.3h-3zM444 388.6h3v4.3h-3zM450 388.6h3v4.3h-3zM513 388.6h6v4.3h-6zM471 397.2h3v4.3h-3zM510 397.2h6v4.3h-6zM519 397.2h3v4.3h-3zM444 401.5h3v4.3h-3zM453 401.5h15v4.3h-15zM474 401.5h3v4.3h-3zM507 401.5h12v4.3h-12zM465 405.8h3v4.3h-3zM471 405.8h3v4.3h-3zM441 414.4h3v4.3h-3zM459 414.4h3v4.3h-3zM453 418.7h3v4.3h-3zM492 418.7h3v4.3h-3zM483 423h3v4.3h-3zM492 423h3v4.3h-3zM513 423h3v4.3h-3zM492 427.3h3v4.3h-3zM519 427.3h3v4.3h-3zM486 431.6h6v4.3h-6zM510 431.6h3v4.3h-3zM519 431.6h3v4.3h-3zM489 440.2h3v4.3h-3zM483 444.5h3v4.3h-3zM486 448.8h3v4.3h-3zM480 453.1h3v4.3h-3zM546 470.3h3v4.3h-3zM546 474.6h3v4.3h-3zM555 474.6h3v4.3h-3zM552 478.9h3v4.3h-3zM558 478.9h3v4.3h-3zM567 478.9h3v4.3h-3zM552 483.2h6v4.3h-6zM567 483.2h3v4.3h-3zM546 487.5h3v4.3h-3zM558 487.5h9v4.3h-9zM537 491.8h9v4.3h-9zM549 491.8h6v4.3h-6zM561 491.8h3v4.3h-3zM540 496.1h3v4.3h-3zM534 500.4h3v4.3h-3zM522 504.7h9v4.3h-9zM537 504.7h3v4.3h-3zM495 509h3v4.3h-3zM510 509h3v4.3h-3zM480 513.3h3v4.3h-3zM492 513.3h3v4.3h-3zM510 513.3h3v4.3h-3zM477 517.6h3v4.3h-3zM483 517.6h3v4.3h-3zM462 521.9h3v4.3h-3zM468 521.9h3v4.3h-3zM489 521.9h3v4.3h-3zM459 526.2h6v4.3h-6zM450 530.5h3v4.3h-3zM522 530.5h6v4.3h-6zM534 530.5h3v4.3h-3zM447 534.8h6v4.3h-6zM441 539.1h3v4.3h-3zM522 539.1h12v4.3h-12zM432 543.4h3v4.3h-3zM531 543.4h3v4.3h-3zM426 547.7h6v4.3h-6zM522 547.7h3v4.3h-3zM420 552h3v4.3h-3zM417 556.3h3v4.3h-3z"/>
<path fill="#51a36a" d="M612 276.8h6v4.3h-6zM603 281.1h9v4.3h-9zM615 281.1h6v4.3h-6zM597 285.4h6v4.3h-6zM609 285.4h3v4.3h-3zM615 285.4h6v4.3h-6zM579 289.7h6v4.3h-6zM591 289.7h3v4.3h-3zM597 289.7h3v4.3h-3zM603 289.7h3v4.3h-3zM618 289.7h9v4.3h-9zM549 294h3v4.3h-3zM555 294h3v4.3h-3zM567 294h6v4.3h-6zM588 294h6v4.3h-6zM606 294h3v4.3h-3zM618 294h6v4.3h-6zM570 298.3h9v4.3h-9zM588 298.3h6v4.3h-6zM600 298.3h3v4.3h-3zM609 298.3h3v4.3h-3zM615 298.3h3v4.3h-3zM570 302.6h3v4.3h-3zM576 302.6h6v4.3h-6zM588 302.6h6v4.3h-6zM597 302.6h3v4.3h-3zM603 302.6h3v4.3h-3zM615 302.6h3v4.3h-3zM555 306.9h3v4.3h-3zM579 306.9h9v4.3h-9zM594 306.9h12v4.3h-12zM618 306.9h3v4.3h-3zM627 306.9h3v4.3h-3zM528 311.2h3v4.3h-3zM588 311.2h9v4.3h-9zM612 311.2h6v4.3h-6zM630 311.2h3v4.3h-3zM585 315.5h3v4.3h-3zM600 315.5h6v4.3h-6zM615 315.5h3v4.3h-3zM624 315.5h3v4.3h-3zM630 315.5h6v4.3h-6zM525 319.8h3v4.3h-3zM561 319.8h3v4.3h-3zM597 319.8h3v4.3h-3zM615 319.8h3v4.3h-3zM525 324.1h6v4.3h-6zM537 324.1h3v4.3h-3zM546 324.1h6v4.3h-6zM555 324.1h3v4.3h-3zM633 324.1h3v4.3h-3zM525 328.4h3v4.3h-3zM546 328.4h6v4.3h-6zM564 328.4h3v4.3h-3zM573 328.4h6v4.3h-6zM474 332.7h3v4.3h-3zM531 332.7h3v4.3h-3zM549 332.7h6v4.3h-6zM573 332.7h3v4.3h-3zM633 332.7h3v4.3h-3zM411 337h3v4.3h-3zM441 337h6v4.3h-6zM474 337h6v4.3h-6zM549 337h3v4.3h-3zM555 337h3v4.3h-3zM573 337h3v4.3h-3zM603 337h3v4.3h-3zM612 337h3v4.3h-3zM630 337h3v4.3h-3zM405 341.3h3v4.3h-3zM411 341.3h3v4.3h-3zM423 341.3h6v4.3h-6zM435 341.3h3v4.3h-3zM453 341.3h3v4.3h-3zM459 341.3h3v4.3h-3zM468 341.3h3v4.3h-3zM561 341.3h3v4.3h-3zM570 341.3h3v4.3h-3zM591 341.3h3v4.3h-3zM600 341.3h3v4.3h-3zM606 341.3h9v4.3h-9zM618 341.3h6v4.3h-6zM405 345.6h3v4.3h-3zM414 345.6h3v4.3h-3zM429 345.6h3v4.3h-3zM450 345.6h3v4.3h-3zM456 345.6h3v4.3h-3zM468 345.6h3v4.3h-3zM405 349.9h3v4.3h-3zM411 349.9h3v4.3h-3zM417 349.9h3v4.3h-3zM429 349.9h9v4.3h-9zM465 349.9h3v4.3h-3zM402 354.2h3v4.3h-3zM411 354.2h3v4.3h-3zM459 354.2h6v4.3h-6zM408 358.5h3v4.3h-3zM435 358.5h6v4.3h-6zM447 358.5h3v4.3h-3zM456 358.5h12v4.3h-12zM411 362.8h3v4.3h-3zM420 362.8h6v4.3h-6zM429 362.8h3v4.3h-3zM435 362.8h6v4.3h-6zM450 362.8h15v4.3h-15zM450 380h3v4.3h-3zM456 380h3v4.3h-3zM450 384.3h6v4.3h-6zM459 384.3h3v4.3h-3zM465 384.3h3v4.3h-3zM516 392.9h3v4.3h-3zM516 397.2h3v4.3h-3zM450 401.5h3v4.3h-3zM468 401.5h3v4.3h-3zM444 405.8h6v4.3h-6zM453 405.8h6v4.3h-6zM462 405.8h3v4.3h-3zM444 410.1h6v4.3h-6zM456 410.1h3v4.3h-3zM462 410.1h6v4.3h-6zM450 414.4h9v4.3h-9zM444 418.7h9v4.3h-9zM486 418.7h3v4.3h-3zM486 423h6v4.3h-6zM486 427.3h6v4.3h-6zM510 427.3h6v4.3h-6zM513 431.6h3v4.3h-3zM486 435.9h6v4.3h-6zM483 448.8h3v4.3h-3zM543 470.3h3v4.3h-3zM540 474.6h6v4.3h-6zM537 478.9h6v4.3h-6zM549 478.9h3v4.3h-3zM555 478.9h3v4.3h-3zM537 483.2h6v4.3h-6zM558 483.2h3v4.3h-3zM549 487.5h3v4.3h-3zM555 487.5h3v4.3h-3zM558 491.8h3v4.3h-3zM537 496.1h3v4.3h-3zM549 496.1h3v4.3h-3zM555 496.1h3v4.3h-3zM540 500.4h3v4.3h-3zM498 509h3v4.3h-3zM504 509h6v4.3h-6zM483 513.3h9v4.3h-9zM480 517.6h3v4.3h-3zM465 521.9h3v4.3h-3zM456 526.2h3v4.3h-3zM453 530.5h6v4.3h-6zM528 530.5h3v4.3h-3zM525 534.8h3v4.3h-3zM531 534.8h3v4.3h-3zM438 539.1h3v4.3h-3z"/>
<path fill="#469869" d="M618 276.8h3v4.3h-3zM603 285.4h6v4.3h-6zM621 285.4h3v4.3h-3zM627 285.4h3v4.3h-3zM585 289.7h3v4.3h-3zM606 289.7h6v4.3h-6zM615 289.7h3v4.3h-3zM558 294h3v4.3h-3zM564 294h3v4.3h-3zM576 294h3v4.3h-3zM585 294h3v4.3h-3zM597 294h6v4.3h-6zM615 294h3v4.3h-3zM540 298.3h3v4.3h-3zM546 298.3h3v4.3h-3zM558 298.3h3v4.3h-3zM579 298.3h3v4.3h-3zM585 298.3h3v4.3h-3zM603 298.3h3v4.3h-3zM546 302.6h6v4.3h-6zM573 302.6h3v4.3h-3zM582 302.6h6v4.3h-6zM612 302.6h3v4.3h-3zM543 306.9h3v4.3h-3zM549 306.9h3v4.3h-3zM558 306.9h3v4.3h-3zM564 306.9h3v4.3h-3zM573 306.9h6v4.3h-6zM609 306.9h6v4.3h-6zM621 306.9h3v4.3h-3zM561 311.2h3v4.3h-3zM573 311.2h3v4.3h-3zM579 311.2h9v4.3h-9zM603 311.2h3v4.3h-3zM618 311.2h6v4.3h-6zM627 311.2h3v4.3h-3zM528 315.5h3v4.3h-3zM558 315.5h6v4.3h-6zM579 315.5h6v4.3h-6zM591 315.5h9v4.3h-9zM612 315.5h3v4.3h-3zM618 315.5h6v4.3h-6zM528 319.8h6v4.3h-6zM546 319.8h3v4.3h-3zM552 319.8h3v4.3h-3zM558 319.8h3v4.3h-3zM579 319.8h3v4.3h-3zM585 319.8h3v4.3h-3zM591 319.8h3v4.3h-3zM600 319.8h3v4.3h-3zM621 319.8h3v4.3h-3zM531 324.1h6v4.3h-6zM540 324.1h6v4.3h-6zM582 324.1h6v4.3h-6zM597 324.1h3v4.3h-3zM627 324.1h3v4.3h-3zM543 328.4h3v4.3h-3zM567 328.4h3v4.3h-3zM588 328.4h12v4.3h-12zM609 328.4h6v4.3h-6zM627 328.4h3v4.3h-3zM633 328.4h3v4.3h-3zM576 332.7h3v4.3h-3zM588 332.7h3v4.3h-3zM600 332.7h3v4.3h-3zM612 332.7h3v4.3h-3zM414 337h3v4.3h-3zM420 337h3v4.3h-3zM552 337h3v4.3h-3zM570 337h3v4.3h-3zM576 337h6v4.3h-6zM585 337h18v4.3h-18zM615 337h3v4.3h-3zM414 341.3h6v4.3h-6zM438 341.3h12v4.3h-12zM462 341.3h3v4.3h-3zM477 341.3h3v4.3h-3zM402 345.6h3v4.3h-3zM408 345.6h6v4.3h-6zM417 345.6h12v4.3h-12zM438 345.6h3v4.3h-3zM447 345.6h3v4.3h-3zM453 345.6h3v4.3h-3zM459 345.6h9v4.3h-9zM402 349.9h3v4.3h-3zM408 349.9h3v4.3h-3zM420 349.9h3v4.3h-3zM426 349.9h3v4.3h-3zM441 349.9h6v4.3h-6zM462 349.9h3v4.3h-3zM405 354.2h6v4.3h-6zM414 354.2h3v4.3h-3zM420 354.2h6v4.3h-6zM432 354.2h3v4.3h-3zM441 354.2h3v4.3h-3zM456 354.2h3v4.3h-3zM411 358.5h3v4.3h-3zM417 358.5h3v4.3h-3zM432 358.5h3v4.3h-3zM450 358.5h6v4.3h-6zM414 362.8h6v4.3h-6zM426 362.8h3v4.3h-3zM453 380h3v4.3h-3zM456 384.3h3v4.3h-3zM447 401.5h3v4.3h-3zM441 405.8h3v4.3h-3zM450 405.8h3v4.3h-3zM459 405.8h3v4.3h-3zM450 410.1h6v4.3h-6zM459 410.1h3v4.3h-3zM444 414.4h6v4.3h-6zM489 418.7h3v4.3h-3zM516 427.3h3v4.3h-3zM543 478.9h6v4.3h-6zM543 483.2h9v4.3h-9zM552 487.5h3v4.3h-3zM555 491.8h3v4.3h-3zM552 496.1h3v4.3h-3zM537 500.4h3v4.3h-3zM501 509h3v4.3h-3zM531 530.5h3v4.3h-3zM528 534.8h3v4.3h-3z"/>
<path fill="#3b8c69" d="M621 276.8h9v4.3h-9zM621 281.1h9v4.3h-9zM624 285.4h3v4.3h-3zM600 289.7h3v4.3h-3zM612 289.7h3v4.3h-3zM561 294h3v4.3h-3zM579 294h6v4.3h-6zM603 294h3v4.3h-3zM609 294h6v4.3h-6zM543 298.3h3v4.3h-3zM549 298.3h9v4.3h-9zM561 298.3h9v4.3h-9zM582 298.3h3v4.3h-3zM612 298.3h3v4.3h-3zM540 302.6h6v4.3h-6zM552 302.6h18v4.3h-18zM606 302.6h6v4.3h-6zM534 306.9h9v4.3h-9zM546 306.9h3v4.3h-3zM552 306.9h3v4.3h-3zM561 306.9h3v4.3h-3zM567 306.9h6v4.3h-6zM606 306.9h3v4.3h-3zM624 306.9h3v4.3h-3zM531 311.2h30v4.3h-30zM564 311.2h9v4.3h-9zM576 311.2h3v4.3h-3zM606 311.2h6v4.3h-6zM624 311.2h3v4.3h-3zM531 315.5h27v4.3h-27zM588 315.5h3v4.3h-3zM606 315.5h6v4.3h-6zM627 315.5h3v4.3h-3zM534 319.8h12v4.3h-12zM549 319.8h3v4.3h-3zM555 319.8h3v4.3h-3zM582 319.8h3v4.3h-3zM588 319.8h3v4.3h-3zM594 319.8h3v4.3h-3zM603 319.8h12v4.3h-12zM618 319.8h3v4.3h-3zM624 319.8h12v4.3h-12zM552 324.1h3v4.3h-3zM558 324.1h6v4.3h-6zM579 324.1h3v4.3h-3zM588 324.1h9v4.3h-9zM600 324.1h27v4.3h-27zM630 324.1h3v4.3h-3zM552 328.4h12v4.3h-12zM579 328.4h9v4.3h-9zM600 328.4h9v4.3h-9zM615 328.4h12v4.3h-12zM630 328.4h3v4.3h-3zM555 332.7h18v4.3h-18zM579 332.7h9v4.3h-9zM591 332.7h9v4.3h-9zM603 332.7h9v4.3h-9zM615 332.7h18v4.3h-18zM417 337h3v4.3h-3zM558 337h12v4.3h-12zM582 337h3v4.3h-3zM606 337h6v4.3h-6zM618 337h12v4.3h-12zM420 341.3h3v4.3h-3zM441 345.6h6v4.3h-6zM423 349.9h3v4.3h-3zM447 349.9h15v4.3h-15zM417 354.2h3v4.3h-3zM426 354.2h6v4.3h-6zM444 354.2h12v4.3h-12zM414 358.5h3v4.3h-3zM420 358.5h12v4.3h-12zM432 362.8h3v4.3h-3zM417 552h3v4.3h-3z"/>
</g>
<polyline points="326.6,367.0 329.2,369.0 332.1,370.5 335.0,372.0 337.2,374.2 339.4,376.3 342.0,378.0 343.7,380.4 345.0,383.0 347.7,384.4 350.3,385.9 353.1,387.1 356.0,388.0 357.1,386.2 358.0,384.4 360.4,382.9 363.0,382.0 363.9,380.5 365.0,379.0 366.9,380.0 369.0,380.0 370.8,378.2 373.0,377.0 374.9,375.4 377.0,374.0 375.9,370.8 374.0,368.0 372.0,366.5 370.0,365.0 372.4,363.7 375.0,363.0 378.1,364.3 381.0,366.0 383.9,367.4 387.0,368.0 389.7,367.8 392.3,367.9 395.0,368.0 395.9,370.1 397.0,372.0 399.9,373.3 403.0,374.0 405.5,374.5 408.0,375.0 410.2,375.6 412.0,377.0 412.0,375.0 415.0,375.8 418.0,376.4 420.3,374.8 423.0,374.0 425.2,372.5 427.5,371.5 430.0,370.6 432.7,370.9 435.3,370.7 438.0,371.0 440.7,370.9 443.3,370.0 446.0,370.0 448.9,368.8 452.0,368.4 454.8,368.5 457.3,369.7 460.0,370.0 461.7,369.3 463.0,368.0 463.4,365.4 464.4,363.0 466.1,361.1 467.8,359.3 470.0,358.0 472.6,357.1 474.9,355.8 477.4,354.7 480.0,354.0 482.1,351.4 484.1,348.7 486.0,346.0 487.6,343.3 489.0,340.5 491.0,338.0 491.6,335.0 492.0,332.0 494.0,329.5 496.0,327.0" fill="none" stroke="#505050" stroke-width="1.9" stroke-linejoin="round"/>
<polyline points="387.0,402.0 388.8,400.4 391.1,399.5 393.0,398.0 395.3,396.9 397.4,395.6 400.0,394.5 402.2,397.0 404.4,397.7 406.6,398.5 409.2,397.2 412.0,396.8 414.6,395.5 417.7,394.5 420.5,392.9 423.5,391.7 426.4,390.1 429.2,388.6 432.4,387.8 432.4,391.0 432.1,394.2 432.5,397.5 431.6,400.7 431.8,403.9 434.8,403.9 437.8,404.2 440.8,404.3 443.8,405.0 446.0,406.5 446.7,404.3 448.8,405.1 451.1,405.0 452.2,402.2 452.8,399.2 455.4,398.1 457.7,396.3 461.0,396.3 464.2,396.0 466.7,395.8 469.1,396.3 471.5,396.7 474.5,398.0 477.4,399.4 478.1,401.4 478.1,403.6 476.3,404.7 475.2,406.5 476.4,409.4 477.4,412.3 479.7,412.4 481.8,413.1 483.0,414.8 484.7,416.0 485.8,413.6 487.6,411.6 490.6,411.5 493.4,410.6 495.6,411.4 497.8,412.2 500.0,413.0 502.6,412.5 505.3,412.3 508.0,412.0 510.2,413.2 512.0,415.0 515.1,415.0 518.0,416.0 520.3,414.3 521.8,411.8 524.0,410.0 526.2,408.9 527.8,407.1 530.0,406.0 532.5,405.8 534.8,405.0 537.0,404.0 537.3,401.0 537.0,398.0 538.2,395.4 539.1,392.7 540.0,390.0 540.9,387.4 541.0,384.6 542.0,382.0 542.6,379.3 543.7,376.7 544.0,374.0 545.0,371.4 546.9,369.2 548.1,366.7 549.0,364.0 549.9,360.6 550.9,357.3 552.0,354.0 554.0,352.5 556.0,351.0 559.0,351.9 562.0,353.0 564.4,350.8 565.9,348.0 568.0,345.6 570.6,344.6 573.3,344.1 576.0,344.0 578.4,343.9 580.7,343.8 583.0,343.0 585.3,343.9 587.7,344.7 590.0,345.6 593.0,344.8 596.0,344.0 598.1,345.2 600.4,346.0 601.5,343.4 603.0,341.0 603.9,343.7 604.9,346.4 606.0,349.0 606.9,351.5 608.0,354.0" fill="none" stroke="#505050" stroke-width="1.9" stroke-linejoin="round"/>
<polyline points="307.0,430.0 308.3,432.0 310.6,433.1 312.0,435.0 315.1,435.0 318.0,436.0 320.6,434.7 322.5,432.4 325.0,431.0 327.4,430.1 330.0,430.0 331.4,432.6 333.0,435.0 333.9,433.4 335.0,432.0 335.3,434.4 336.6,436.6 337.0,439.0 338.8,440.4 341.0,441.0 340.2,438.0 339.8,435.0 339.0,432.0 341.7,431.4 344.0,430.0 343.6,432.7 343.1,435.5 343.0,438.2 343.0,441.0 343.9,443.4 344.0,446.0 342.1,447.4 340.6,449.3 339.0,451.0 335.7,451.7 332.4,452.2 329.0,452.4 330.7,454.8 332.9,456.9 335.0,459.0 336.6,461.9 338.8,464.5 341.0,467.0 342.4,469.3 344.5,471.0 346.1,473.1 348.0,475.0 350.7,476.6 353.6,477.8 356.0,479.9 359.0,481.0 361.6,482.3 363.9,484.2 366.3,485.9 369.0,487.0 371.2,488.6 373.7,489.7 375.6,491.8 378.0,493.0" fill="none" stroke="#505050" stroke-width="1.9" stroke-linejoin="round"/>
<polyline points="348.0,476.0 345.7,477.3 343.7,479.0 342.0,481.0 341.3,483.3 341.7,485.7 341.0,488.0 340.9,490.7 341.1,493.3 341.0,496.0" fill="none" stroke="#505050" stroke-width="1.9" stroke-linejoin="round"/>
<polyline points="387.0,404.0 385.3,406.4 384.0,409.0 380.8,410.2 378.0,412.0 378.0,414.4 376.8,416.6 377.0,419.0 378.6,421.2 379.5,423.8 381.0,426.0 383.9,427.3 386.2,429.6 389.0,431.0 391.2,432.4 392.9,434.5 395.0,436.0 396.1,438.8 397.4,441.5 399.0,444.0 401.0,446.3 402.7,448.9 405.0,451.0 407.2,452.1 409.8,452.0 412.0,453.0 412.0,454.0 414.0,456.0 415.7,458.3 418.0,460.0 420.2,461.5 422.7,462.6 425.0,464.0 428.0,464.5 430.9,465.8 434.0,466.0 436.9,467.0 439.2,468.9 442.0,470.0 442.7,473.1 444.0,476.0 446.5,477.4 448.8,479.2 451.0,481.0 453.4,480.1 456.0,479.6 455.6,483.1 455.5,486.5 455.0,490.0 452.7,492.3 451.0,495.0 448.6,494.9 446.4,495.8 444.0,496.0 441.1,495.1 438.0,495.0 435.2,496.9 432.0,498.0 430.6,500.3 428.5,501.9 427.0,504.0 426.4,506.6 426.0,509.3 426.0,512.0 423.7,513.3 421.8,515.1 420.0,517.0 419.2,519.7 417.8,522.2 417.0,525.0 414.7,523.6 412.0,523.0 412.0,521.0 409.0,521.1 406.0,520.3 403.0,520.0 399.9,519.8 397.0,519.0 394.8,520.3 392.3,521.0 390.0,522.0 387.7,521.8 385.3,521.5 383.0,522.0" fill="none" stroke="#505050" stroke-width="1.9" stroke-linejoin="round"/>
<polyline points="418.0,460.0 415.0,461.1 412.0,462.0 409.5,462.3 407.2,463.0 405.0,464.0 404.3,467.1 403.0,470.0 402.3,473.0 402.2,476.0 402.0,479.0 399.9,481.0 397.1,482.0 395.0,484.0 392.1,484.9 389.0,485.5 386.0,486.0 383.7,486.7 381.3,487.2 379.0,488.0 378.9,490.6 378.0,493.0" fill="none" stroke="#505050" stroke-width="1.9" stroke-linejoin="round"/>
<polyline points="451.0,495.0 450.0,497.7 449.8,500.6 449.0,503.3 448.0,506.0 450.0,506.6 452.0,507.0 453.3,504.1 455.6,501.8 457.0,499.0 458.8,501.7 461.0,504.0 463.9,502.9 467.0,502.8 470.0,502.0 472.7,500.7 475.4,499.5 478.0,498.0 478.8,495.4 479.1,492.7 479.0,490.0 480.9,487.4 483.0,485.0 485.9,486.3 488.9,487.3 492.0,488.0 494.3,486.3 495.7,483.7 498.3,482.3 500.0,480.0 501.8,477.5 503.7,475.1 506.0,473.0 508.0,472.1 510.0,471.0 512.3,473.3 515.0,475.0 518.1,474.4 521.0,473.0 522.2,470.6 524.0,468.5 525.0,466.0 525.3,462.9 527.0,460.1 527.0,456.9 528.0,454.0 530.0,451.4 531.7,448.4 534.0,446.0 534.9,443.4 536.2,441.1 538.0,439.0 540.1,436.6 542.0,434.0 544.4,433.4 546.8,433.0 549.0,432.0 548.0,433.0 550.8,434.8 554.0,436.0 556.5,436.9 559.0,438.0 561.4,438.0 563.6,437.0 566.0,437.0 568.6,437.7 571.4,437.4 574.0,438.0 576.2,439.0 578.7,439.0 581.0,439.6" fill="none" stroke="#505050" stroke-width="1.9" stroke-linejoin="round"/>
<polyline points="360.0,570.0 361.4,572.6 363.0,575.0 366.1,574.2 369.0,573.0 370.7,575.3 373.0,577.0 374.9,579.5 376.7,582.1 378.0,585.0 380.2,583.9 381.9,582.2 384.0,581.0 387.0,581.4 390.0,582.0 390.2,585.1 391.0,588.0 392.3,590.4 393.0,593.0" fill="none" stroke="#505050" stroke-width="1.9" stroke-linejoin="round"/>
<polygon points="303.0,404.0 303.4,401.2 304.1,398.5 305.3,395.9 305.0,393.0 307.3,391.3 309.7,389.7 312.0,388.0 312.7,385.0 313.0,382.0 314.3,380.2 316.3,379.4 318.0,378.0 318.7,375.7 319.5,373.4 319.4,371.0 321.9,368.9 325.0,368.0 323.7,365.6 323.0,363.0 324.3,360.5 326.6,359.0 325.3,356.2 323.0,354.0 324.8,351.7 326.0,349.0 324.7,346.7 325.0,344.0 327.4,343.2 328.6,341.0 328.4,337.7 326.6,335.0 327.6,332.1 328.0,329.0 326.1,326.9 324.0,325.0 321.8,324.2 319.9,323.0 318.6,321.0 317.8,318.6 316.1,316.6 316.0,314.0 314.1,312.3 313.0,310.0 312.0,307.3 312.0,304.4 313.6,302.5 316.0,302.1 318.0,301.0 317.2,298.4 317.3,295.5 316.0,293.0 317.4,290.7 318.9,288.5 320.0,286.0 319.5,283.0 319.0,280.0 321.2,277.9 322.9,275.3 325.0,273.0 327.3,274.4 328.4,277.0 331.0,278.0 332.6,280.9 335.1,282.9 337.5,285.0 340.0,287.0 342.4,286.0 345.0,285.6 347.5,285.1 350.0,285.6 349.8,283.1 349.5,280.6 350.9,278.1 350.6,275.6 353.3,274.1 356.5,273.5 359.0,271.6 361.7,272.3 364.1,274.2 367.0,274.4 369.8,274.3 372.1,272.2 375.0,272.4 377.0,270.9 379.8,271.1 381.7,269.4 384.0,268.4 384.9,270.4 387.0,271.0 387.2,273.5 387.0,276.0 386.3,278.7 384.1,280.6 383.0,283.0 380.5,284.6 379.0,287.3 376.6,289.0 377.0,291.6 376.0,294.0 377.9,296.2 378.7,299.2 381.0,301.0 383.0,303.4 386.1,304.5 388.0,307.0 390.0,309.1 391.9,311.2 393.0,314.0 394.5,316.5 394.0,319.6 395.8,322.1 396.0,325.0 397.9,327.1 400.0,329.0 402.3,328.9 404.7,328.4 407.0,329.0 409.7,328.4 412.0,327.0 414.6,325.9 417.4,326.3 420.0,325.6 422.2,324.5 424.6,324.7 427.0,324.4 429.7,325.2 432.0,327.0 433.7,328.4 434.0,330.9 436.0,332.0 438.3,331.1 439.8,329.0 442.0,328.0 444.1,329.6 446.9,329.5 449.0,331.0 452.0,330.3 455.0,330.0 457.6,329.4 459.8,327.8 462.0,326.4 464.9,326.6 467.1,329.0 470.0,329.0 472.5,327.8 475.2,327.2 478.0,327.0 480.5,326.5 482.5,324.7 485.0,324.0 487.4,324.2 489.8,324.3 492.0,325.6 494.9,324.6 498.0,325.0 499.8,322.4 500.9,319.4 503.0,317.0 503.7,314.3 503.8,311.5 504.4,308.7 505.0,306.0 507.2,306.3 509.0,305.0 511.5,306.0 514.0,307.0 515.4,304.7 517.2,302.7 518.0,300.0 520.5,298.8 523.2,298.1 526.0,298.0 528.5,296.3 530.0,293.6 532.8,293.3 535.2,291.4 538.0,291.0 540.7,290.2 543.5,290.9 546.3,291.0 549.0,290.0 551.5,290.1 553.4,292.1 556.0,292.0 558.7,290.9 560.8,288.8 563.0,287.0 565.7,285.4 568.2,283.4 570.9,281.8 574.0,281.0 577.1,280.5 579.3,278.1 582.4,277.6 585.0,276.0 586.7,274.2 589.3,273.5 591.1,271.6 593.0,270.0 595.5,268.9 598.0,268.0 600.9,268.2 603.2,266.4 606.0,266.4 608.7,265.5 611.6,265.7 614.5,265.8 617.2,265.0 620.0,264.4 622.8,263.7 625.7,264.6 628.3,263.0 631.1,262.4 634.0,263.0 636.5,263.5 638.7,264.6 641.0,265.6 642.5,263.4 644.6,262.1 647.0,261.0 649.3,260.3 651.7,260.2 654.0,259.6 656.9,258.3 660.0,258.4 661.2,260.1 662.0,262.0 659.5,263.3 658.0,265.6 655.0,265.9 652.6,267.6 650.0,269.0 647.2,269.8 644.6,271.1 642.0,272.4 640.4,274.7 638.6,276.7 636.0,278.0 636.5,281.1 634.6,283.9 635.0,287.0 633.1,288.8 631.0,290.5 630.0,293.0 630.2,295.9 628.4,298.3 628.0,301.0 629.0,303.3 629.6,305.8 631.0,308.0 633.2,309.2 635.0,311.0 634.4,313.5 636.4,315.6 636.0,318.0 637.8,320.4 639.4,322.9 641.6,325.0 640.1,327.8 640.0,331.0 638.3,333.1 637.0,335.5 636.0,338.0 633.9,339.7 632.1,341.5 631.0,344.0 629.5,346.2 627.2,347.8 625.2,349.5 624.0,352.0 620.9,352.0 618.0,353.5 615.0,354.0 612.1,355.2 609.3,356.8 607.0,359.0 605.6,360.6 604.2,362.2 603.0,364.0 602.5,366.4 601.5,368.6 601.0,371.0 602.2,373.1 604.3,374.6 605.0,377.0 605.3,380.0 606.0,383.0 603.6,384.8 602.1,387.3 601.0,390.0 599.0,392.1 597.8,394.8 596.0,397.0 595.2,399.3 595.2,401.6 595.0,404.0 594.4,406.7 593.1,409.2 593.0,412.0 593.9,414.6 593.0,417.4 593.6,420.0 593.2,423.0 591.0,425.3 590.0,428.0 588.4,430.0 587.0,432.3 585.0,434.0 583.7,435.8 583.0,438.0 582.0,440.0 582.0,443.0 582.4,446.0 584.2,448.6 587.0,450.0 586.4,452.2 585.8,454.4 584.0,456.0 585.3,458.9 586.0,462.0 584.1,463.8 583.1,466.3 581.0,468.0 579.0,469.8 576.0,470.0 574.0,472.0 572.3,473.8 571.0,476.0 572.6,478.4 574.0,481.0 572.4,483.1 572.3,485.8 571.0,488.0 568.8,490.1 567.4,493.0 565.0,495.0 563.1,496.8 560.6,497.9 559.0,500.0 557.6,502.5 557.0,505.2 557.0,508.0 556.2,510.4 554.9,512.6 554.0,515.0 555.8,516.8 557.0,519.0 555.9,521.7 553.7,523.7 552.0,526.0 549.6,527.0 548.0,529.0 545.7,529.4 543.8,530.7 542.0,532.0 539.9,534.3 539.7,537.5 538.0,540.0 537.8,542.7 536.6,545.0 536.1,547.6 535.0,550.0 534.5,552.8 533.1,555.4 532.0,558.0 533.1,560.1 534.7,562.0 536.0,564.0 535.3,567.1 534.0,570.0 531.6,571.2 529.4,572.7 528.0,575.0 525.5,576.6 523.0,578.0 465.0,558.0 462.8,556.9 461.1,555.3 460.0,553.0 458.8,551.1 456.2,551.0 455.0,549.0 452.8,550.2 451.0,552.0 449.9,553.9 449.3,556.2 448.0,558.0 448.0,560.0 445.5,560.2 443.6,562.2 441.0,562.0 442.1,564.4 442.0,567.0 440.4,568.7 439.3,570.9 437.0,572.0 434.6,573.6 433.3,576.3 431.0,578.0 430.6,580.7 429.0,583.0 426.3,583.1 424.0,581.6 420.9,582.1 418.0,583.0 416.1,584.7 413.9,586.2 412.0,588.0 409.6,587.2 407.0,587.0 404.8,587.5 403.0,589.0 400.1,589.6 397.9,591.4 395.6,593.0 395.6,595.6 394.6,598.0 393.4,600.4 392.7,602.9 391.0,605.0 389.4,606.8 387.0,607.0 385.0,608.0 381.9,608.6 379.0,610.0 376.8,612.0 374.0,613.0 373.4,615.8 372.3,618.4 371.0,621.0 369.8,623.1 369.2,625.5 368.1,627.7 367.4,630.0 366.5,632.6 366.7,635.4 366.0,638.0 365.8,640.7 365.9,643.4 367.0,646.0 367.4,649.1 365.6,651.9 366.0,655.0 364.0,657.5 363.2,660.7 361.0,663.0 359.1,665.4 356.8,667.5 355.0,670.0 352.9,671.6 352.2,674.1 350.4,675.9 349.0,678.0 346.6,679.1 344.7,680.9 343.0,683.0 340.8,684.1 339.7,686.4 338.0,688.0 336.9,686.2 334.9,685.0 334.0,683.0 334.4,680.0 334.6,677.0 334.0,674.0 333.1,671.9 332.1,669.8 330.6,668.0 330.9,665.8 332.9,664.3 333.0,662.0 332.2,659.1 330.0,657.0 329.0,654.4 326.7,653.0 325.0,651.0 325.4,648.6 324.4,646.4 324.6,644.0 326.2,641.9 327.1,639.6 327.4,637.0 327.1,634.7 326.6,632.3 327.4,630.0 325.1,628.1 323.0,626.0 321.2,624.3 319.6,622.3 317.4,621.0 319.7,619.0 322.0,617.0 323.1,614.8 325.7,614.3 327.0,612.4 329.9,611.3 333.1,612.2 335.9,610.8 339.0,611.0 340.5,609.4 342.7,608.7 344.0,607.0 342.4,604.2 342.0,601.0 341.4,598.3 342.0,595.7 342.0,593.0 343.4,590.1 344.6,587.2 345.0,584.0 345.5,581.0 346.1,578.0 345.4,575.0 347.7,573.0 350.0,571.0 352.6,571.1 354.5,569.0 357.0,569.0 358.4,567.3 360.4,566.4 362.0,565.0 362.0,562.6 363.1,560.4 363.0,558.0 364.2,556.1 365.0,554.0 366.0,552.0 367.6,550.3 368.1,548.0 369.0,546.0 370.8,543.8 372.8,541.8 375.0,540.0 377.2,537.7 378.9,535.0 380.0,532.0 380.5,529.1 382.6,526.9 383.0,524.0 382.7,522.0 381.0,521.0 379.0,522.0 376.9,522.9 375.0,524.0 372.1,525.0 369.0,525.0 366.5,523.9 364.0,523.0 362.3,521.7 360.8,520.2 359.0,519.0 358.3,521.2 355.7,521.8 355.0,524.0 353.5,522.0 352.0,520.0 348.9,519.2 346.0,518.0 345.0,515.2 343.0,513.0 343.8,510.7 344.3,508.3 345.0,506.0 345.0,503.6 343.6,501.4 344.0,499.0 341.7,497.8 339.3,496.9 337.0,495.6 334.5,494.4 331.8,494.0 329.0,494.4 326.7,493.0 325.0,491.0 323.0,490.5 321.0,490.0 320.2,492.4 318.4,494.1 317.0,496.0 313.9,496.1 310.8,496.6 308.0,498.0 305.7,498.7 303.4,499.6 301.0,500.0 298.9,498.4 297.8,495.9 296.0,494.0 296.8,491.3 295.3,488.7 296.0,486.0 295.8,483.2 293.8,480.9 294.0,478.0 292.4,476.3 291.3,474.2 290.6,472.0 292.0,469.8 292.6,467.2 294.0,465.0 294.2,462.0 295.0,459.0 293.5,457.2 291.2,456.2 290.0,454.0 288.6,452.0 286.2,451.1 285.0,449.0 284.5,446.0 284.0,443.0 282.9,440.8 282.1,438.5 282.0,436.0 283.1,433.0 284.0,430.0 286.5,428.9 289.0,428.0 291.4,428.8 293.7,429.9 296.0,431.0 299.0,430.1 302.0,429.0 303.2,426.3 304.9,424.0 307.0,422.0 309.6,420.7 312.0,419.0 312.7,416.0 313.0,413.0 311.0,411.5 309.0,410.0 308.2,407.6 306.5,405.9 305.0,404.0" fill="none" stroke="#1a1a1a" stroke-width="3.5" stroke-linejoin="round"/>
<defs><linearGradient id="cb" x1="0" x2="1" y1="0" y2="0"><stop offset="0" stop-color="#f3fb6b"/><stop offset="0.25" stop-color="#c9e868"/><stop offset="0.5" stop-color="#96d068"/><stop offset="0.75" stop-color="#5fb46a"/><stop offset="1" stop-color="#3a8b69"/></linearGradient></defs>
<rect x="381" y="656.9" width="242.8" height="14" fill="url(#cb)" stroke="#1a1a1a" stroke-width="1.3"/>
<line class="tk" x1="434.7" x2="434.7" y1="671.5" y2="677"/>
<text class="m" x="434.7" y="695">0</text>
<line class="tk" x1="513.6" x2="513.6" y1="671.5" y2="677"/>
<text class="m" x="513.6" y="695">50</text>
<line class="tk" x1="592.6" x2="592.6" y1="671.5" y2="677"/>
<text class="m" x="592.6" y="695">100</text>
<text x="381.5" y="645.8">Slope of rice area (ha year<tspan class="sup" dy="-5.5">−1</tspan><tspan dy="5.5">)</tspan></text>
</g>
</svg></body></html>
